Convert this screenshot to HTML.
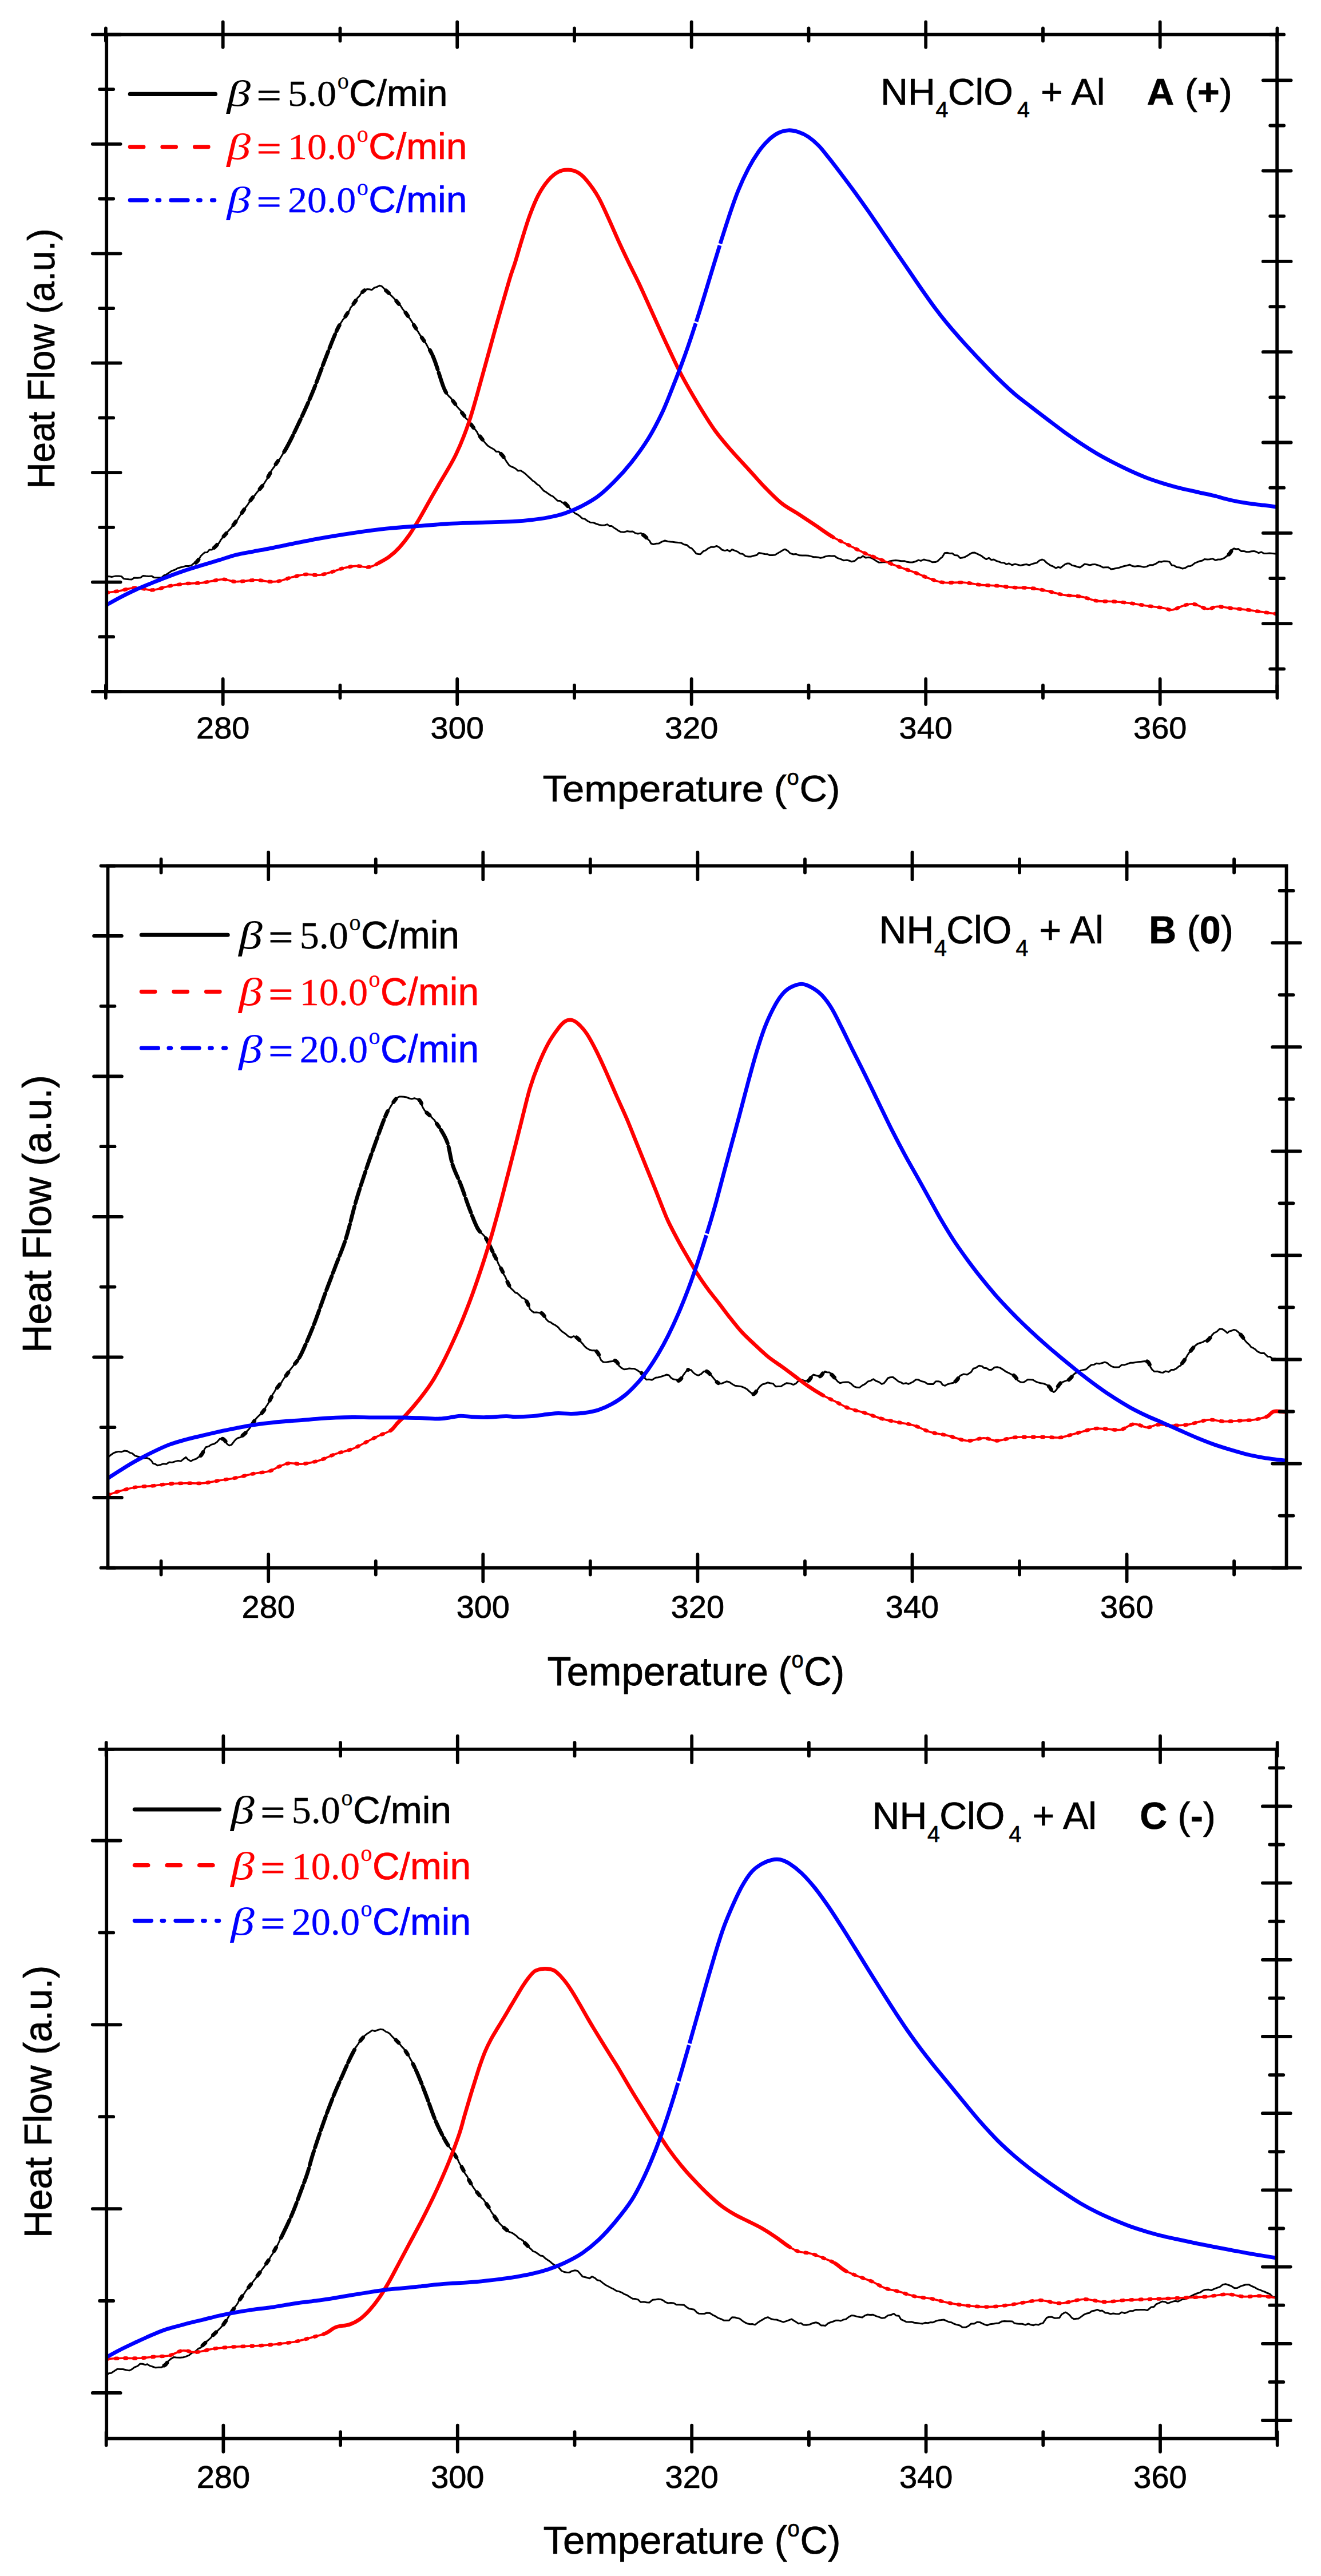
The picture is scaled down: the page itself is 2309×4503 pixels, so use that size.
<!DOCTYPE html>
<html><head><meta charset="utf-8"><title>DSC curves NH4ClO4 + Al</title>
<style>html,body{margin:0;padding:0;background:#fff}svg{display:block}</style></head>
<body>
<svg width="2309" height="4503" viewBox="0 0 2309 4503">
<rect width="2309" height="4503" fill="#fff"/>
<clipPath id="cA"><rect x="186.2" y="60.4" width="2046" height="1148.6"/></clipPath>
<g clip-path="url(#cA)">
<path d="M186.2,1008.1L190,1007.4L195.9,1008.4L202.4,1006.9L208,1007L212.6,1007.7L216,1011.6L220.4,1012.2L225.8,1012.8L230.2,1012.9L234.5,1009.9L240.4,1010.2L245.6,1009.7L250.2,1006.4L255,1007L259.9,1007.5L265.3,1007.1L269.4,1009.6L274,1009.8L278,1009.8L282.8,1009.4L286.9,1005.7L290.4,1004.6L295.7,1001L300,998L305.4,996.3L310.6,993.3L315.9,991.8L320.2,990.8L324.9,989.4L330.2,989.4L334.6,988.3L338.8,984.6L342.4,983.6L345.6,980.1L348.2,976.9L350.8,972.1L354,969L357.6,965.8L362.2,965.6L365.8,961.1L370.5,960.9L374.4,957.4L377.8,954.6L380.9,951.6L383.6,948L385.9,943.8L389,939.9L392.7,935.6L395.9,931.9L399.4,927.6L403.3,923.6L406.5,919.5L409.1,915.3L412.7,911.8L415.4,907.9L418.1,903.3L421,899L423.1,895.3L426.6,890.8L429,887.3L432.7,882.8L435.7,877.9L438.1,873.6L441.4,870L445.2,866L448.4,861.6L452,857.5L455.8,853.4L458.5,849.1L461.8,845L464.6,840.5L466.9,837L468.9,832.3L471.1,828.6L473.8,823.7L477,819L479.7,815.5L481.7,811.5L484.7,807L488.3,803.6L490.9,799.2L493.9,794.2L496.7,789.7L499.7,784.7L501.6,780.2L504,776L507,772.1L509.4,766.8L511.2,762.8L513.6,758L516.2,753L518.4,748.4L520.8,742.6L523,738L525.1,733.7L527.7,728.8L529.6,724.9L531.7,719.7L533.2,714.7L535.9,710L538.2,706.1L539.6,700.9L541.7,696.1L544.3,690.4L546.4,685.6L547.8,681.5L550.2,676.9L551.9,672L554,667.6L555.9,661.6L557.8,657.5L559.1,652.9L561.4,647.1L562.4,642.1L564.8,637.6L566.4,632.9L568.1,628.4L569.7,624.4L572,619.3L574.1,614.5L575.2,608.9L577.9,604.5L579.1,600.2L581.3,595.5L582.7,591L585,586.1L587,582.4L588.4,577.9L590,574.9L592.9,569.1L595.6,564.8L597.6,561.7L599.4,558.8L602.2,555.8L604.7,551.6L607.7,547.3L610.8,542.7L612.9,537.5L616.5,533.7L618.8,529.5L622,525.3L625,520.6L628.5,517.2L631.2,512.7L634.2,510L637.2,507.5L641.8,505.4L645.6,505.8L650,506.7L654.3,503L658.6,501.6L663.3,499.3L666.9,500.1L670.4,503.5L674.6,507.8L677.5,510.4L680.9,514.2L684.3,517.1L688.4,521.3L692,525.3L695.2,529.1L697.9,532.1L700.6,535.1L703.3,539.6L706.7,543.9L709.6,547L712.5,551.6L714.8,555L717.6,558.6L720,562.5L722.9,567.2L725.1,570.6L727.2,575.3L730.4,579.3L733,583.6L735.6,587.7L738,591.2L740.6,595.1L743.3,598.4L746,602.9L748.1,607.4L751,611.5L753.9,616.4L756.2,621.5L757.7,625.9L760.3,630.8L761.4,635.5L763.4,641.2L765,646.3L766.7,651.9L769,656.9L770.7,662.3L771.9,667L773.4,671.9L775.3,676.1L776.6,679.8L779.5,686.4L782.6,690.3L784.9,693L787.8,695.5L791.2,700.2L793.6,702.7L795.7,706.7L798.3,710L801.3,713.4L805,717.4L808.1,721.5L811.1,725.8L813.6,730.4L817.1,733.5L820.3,738L823.6,742.1L827,745.9L830.1,750.4L833.6,754.8L836.4,760.5L840.4,764.3L843,767.9L846.3,772.1L849.5,775.9L852.4,778.9L857.7,782.4L862.9,785.2L867.5,789.6L871.3,789.2L875.7,793.4L878.9,797.3L882.1,801.5L885,806.3L887.7,810.2L890.3,813.8L894.4,816L897.1,816.9L902,819.7L905.2,823L910.1,822.6L914.6,825.4L918.6,828.5L923.3,833L927.2,836.4L931,840.3L934.7,842.6L939.1,846.8L942.8,849L946.6,853.6L950.7,858.2L954.5,860.2L959.1,863.6L962.8,866.2L966,867.4L970,871L974.4,875.2L979,875.6L983.2,878.7L987.4,879.8L990.3,882.4L994,886.1L997.4,890.3L1000.8,893.2L1005,897.3L1008.5,898.8L1012.8,901.7L1017.7,906.2L1022,907L1027.1,910.7L1031.9,913.3L1037,913.6L1041.9,915.5L1047.2,917.4L1051.9,918.3L1057.2,917.9L1061.5,916.6L1065.5,919.6L1069,919.4L1074.3,923.4L1076.8,924.8L1080.7,927.6L1085.3,929.8L1090.5,930.2L1095.8,928.6L1101,929.3L1106,929.1L1110.5,931.9L1115,933L1120.4,931.9L1124.4,935.2L1127.9,938.4L1131.4,941.7L1135.5,945.5L1137.9,950L1142,951.5L1146.9,950.2L1151.5,950.1L1156.6,947.1L1162.3,945L1167.3,946.5L1171.9,947.1L1175.8,947.3L1180.6,947.9L1185.6,948.6L1190.6,948.9L1195.4,951.7L1200.8,952.8L1205.5,957.1L1209,958.5L1213.1,963L1217,967.8L1220.6,968.4L1224.3,968.7L1229.3,963.6L1233.3,962.1L1238,958.5L1243.5,955.9L1248.3,956.2L1252.6,954.4L1257.5,957L1262.4,961.3L1267.2,962.6L1271.3,961.4L1275.8,963.9L1279.4,960.5L1284.7,962.6L1289.3,964.4L1293.7,967.7L1298.3,968.3L1303,972.2L1308,973L1312.5,973L1317.2,971.4L1322.3,970.6L1326.4,966.6L1331.3,967.2L1336.6,968.5L1341.3,968.7L1345.5,970.5L1350.2,970.4L1354.7,970L1360,966.7L1363.5,964.8L1368.5,961.7L1372,960.2L1377.1,962.9L1381,967.1L1386.7,969L1391.2,968.4L1397.2,970.8L1402.3,970.9L1408.4,971.1L1413,971.3L1417.4,972.4L1422,973.8L1425.6,973.8L1430.4,974.2L1434.2,975.4L1438.4,974.5L1442.9,972.7L1448.6,971.6L1453.7,971.9L1458.5,971.8L1463.5,975.3L1469,977.2L1474.6,979.7L1480.3,979L1484.7,980.2L1488.7,981.8L1494.1,980.5L1496.7,978.1L1500.4,974.8L1504.1,975.1L1508.3,972L1513.1,974.9L1517.9,974.2L1522.3,975.1L1526.1,976.9L1531.6,980.6L1536.2,983.3L1541.2,983L1545.4,982.4L1550.4,983.1L1555.3,981L1560.7,979.9L1565.7,979.5L1570.3,980L1575.4,980.7L1581,980.7L1585.4,982.3L1590.5,982.9L1594.9,983L1599.5,981.8L1605.4,979.1L1609.7,980.4L1614.8,978L1619.4,979.4L1624.9,980.3L1629.4,982.7L1635,982.6L1639,980.9L1643.4,976.5L1647,973.6L1651.2,966.8L1655.6,966.3L1660,967.4L1664.5,967.2L1668.6,970.4L1673.9,971L1678.3,975.5L1681.8,975L1686.6,973.7L1690.7,971.4L1694.5,968.9L1699.3,966.3L1703.8,966L1709.2,968.6L1714.9,971.3L1719.7,975L1724.1,977.6L1728.4,975.2L1732.5,978.7L1737.2,978L1741.3,980.4L1745.4,981.7L1749.8,983.4L1754.7,983.8L1759.3,986.4L1763.4,984.8L1768.8,987.8L1774.4,986L1778.7,987.1L1783.8,988.5L1789.1,987.2L1794.1,986.5L1799,987.9L1803.3,986.1L1807,985L1812.2,983.9L1816.7,979.9L1821.7,978L1825.5,979.7L1829,983.4L1832.8,986L1836.3,988.5L1840.1,989.7L1845.4,993.1L1849.4,991.3L1853.8,992.5L1857.8,989.4L1861.7,986.4L1865.4,985L1869,985.1L1873.6,988.1L1878.3,989.3L1883,990.8L1887.6,992L1891,989.8L1895.9,986L1900.4,986.7L1905.1,987.9L1909.5,986.8L1913.6,986.4L1919.1,988L1923.7,989.6L1928,992L1932.9,991.8L1937.4,991.7L1942.1,994.9L1947,994.3L1951.4,993.2L1956.1,992.4L1960.2,991L1965.2,989.5L1970.3,988.5L1974.6,987.1L1979.1,989.4L1983.7,990.2L1988.9,989.6L1993.8,990L1999.5,991.4L2004.4,990.4L2010,987.7L2015.2,987.7L2020.3,985.5L2026,981.7L2030,982.2L2034.5,980.9L2040.1,981.2L2044.2,982.1L2048,988L2052,988.5L2057.2,991.6L2062,992L2067,994L2072.3,992.5L2076.5,989.7L2080.8,989.5L2084.4,987.7L2088.3,984.3L2092.7,982.6L2096.7,981L2101.6,980.1L2105.3,977.6L2110.2,978L2114.3,977.7L2119.4,976.6L2124.8,979.3L2128.9,978L2133.5,978L2139.5,975.7L2143.8,972.5L2148,969.2L2151.3,964.7L2153.6,960.8L2156.9,958.7L2160.2,959.9L2164.7,959.6L2169.7,963.6L2174.3,963.4L2178.8,964.8L2182.8,964.8L2187.6,963.8L2191.8,963.4L2195.9,964.5L2199.9,966.7L2204.8,965L2209.3,967.5L2214.2,967.6L2219.1,966.9L2224.2,967.4L2229.3,968L2232.2,968.1" fill="none" stroke="#000" stroke-width="3" stroke-linejoin="round"/>
<path d="M499.7,784.7C507.4,771.2 515.2,754.5 523,738C530.8,721.5 538.6,704.5 546.4,685.6C554.2,666.7 562.4,642.9 569.7,624.4C577,605.9 584.2,587 590,574.9" fill="none" stroke="#000" stroke-width="6.8" stroke-dasharray="26 6" stroke-linecap="round"/>
<path d="M756.2,621.5C763.5,637.5 770.8,666.7 776.6,679.8" fill="none" stroke="#000" stroke-width="6.8" stroke-dasharray="26 6" stroke-linecap="round"/>
<path d="M342.4,983.6C347.2,980.2 348.7,973.4 354,969" fill="none" stroke="#000" stroke-width="6.8" stroke-dasharray="7 19" stroke-linecap="round"/>
<path d="M374.4,957.4C380.2,952.5 383.6,946.2 389,939.9C394.4,933.6 401.2,926.3 406.5,919.5C411.8,912.7 415.2,907.2 421,899C426.8,890.8 434.6,879 441.4,870C448.2,861 455.9,853.5 461.8,845C467.7,836.5 470.7,829 477,819C483.3,809 492,798.2 499.7,784.7" fill="none" stroke="#000" stroke-width="6.8" stroke-dasharray="7 19" stroke-linecap="round"/>
<path d="M590,574.9C595.8,562.8 599.4,559.9 604.7,551.6C610,543.3 616.6,532.6 622,525.3C627.4,517.9 632.5,510.6 637.2,507.5" fill="none" stroke="#000" stroke-width="6.8" stroke-dasharray="7 19" stroke-linecap="round"/>
<path d="M674.6,507.8C679.4,512.1 685.7,518 692,525.3C698.3,532.6 705.7,541.9 712.5,551.6C719.3,561.3 725.7,572 733,583.6C740.3,595.2 748.9,605.5 756.2,621.5" fill="none" stroke="#000" stroke-width="6.8" stroke-dasharray="7 19" stroke-linecap="round"/>
<path d="M776.6,679.8C782.4,692.9 783.9,690.5 791.2,700.2C798.5,709.9 810.1,724.9 820.3,738C830.5,751.1 843.2,769.7 852.4,778.9" fill="none" stroke="#000" stroke-width="6.8" stroke-dasharray="7 19" stroke-linecap="round"/>
<path d="M875.7,793.4C882,799.2 885.9,809.4 890.3,813.8" fill="none" stroke="#000" stroke-width="6.8" stroke-dasharray="7 19" stroke-linecap="round"/>
<path d="M987.4,879.8C993.2,884.2 996.7,891.7 1005,897.3" fill="none" stroke="#000" stroke-width="6.8" stroke-dasharray="7 19" stroke-linecap="round"/>
<path d="M1124.4,935.2C1131.2,938.9 1135.7,949.9 1142,951.5" fill="none" stroke="#000" stroke-width="6.8" stroke-dasharray="7 19" stroke-linecap="round"/>
<path d="M2148,969.2C2151.9,966 2152.5,959.7 2156.9,958.7" fill="none" stroke="#000" stroke-width="6.8" stroke-dasharray="7 19" stroke-linecap="round"/>
<path d="M186.2,1036.2C189.9,1035.7 199.8,1034.5 208.3,1033C216.8,1031.5 227.7,1027.6 237.4,1027.3C247.1,1027 256.9,1031.9 266.6,1031.4C276.3,1030.9 286,1026.2 295.7,1024.4C305.4,1022.6 315.2,1021.3 324.9,1020.3C334.6,1019.3 343.3,1019.9 354,1018.6C364.7,1017.4 379.3,1013.1 389,1012.8C398.7,1012.5 402.6,1016.6 412.3,1016.8C422,1017 437.6,1013.9 447.3,1013.9C457,1013.9 463.8,1016.5 470.6,1016.8C477.4,1017.1 481.2,1017.1 488,1015.7C494.8,1014.4 503.6,1010.7 511.4,1008.7C519.2,1006.8 526.9,1004.6 534.7,1004C542.5,1003.4 550.2,1006 558,1005.2C565.8,1004.4 574.5,1001.4 581.3,999.4C588.1,997.4 592,995.2 598.8,993.5C605.6,991.8 614.2,989.8 622,989.4C629.8,989 638.7,992.2 645.5,991.2C652.3,990.2 657.1,986.5 662.9,983.5C668.7,980.5 674.6,977.6 680.4,973.2C686.2,968.8 692.1,963.6 697.9,957.2C703.7,950.9 709.6,943.4 715.4,935.1C721.2,926.7 727.1,916.9 732.9,907.1C738.7,897.3 744.6,886.4 750.4,876.1C756.2,865.8 760.1,859.1 767.9,845.5C775.7,831.9 788.3,812.6 797,794.4C805.7,776.2 812.5,759.2 820.3,736C828.1,712.8 835.8,682.7 843.6,655.1C851.4,627.5 859.2,598 867,570.4C874.8,542.8 884.8,507.8 890.3,489.4C895.8,471 896.4,471.4 900,460C903.6,448.6 907.4,434.7 911.7,420.8C916,406.9 921.1,389.6 926,376.4C930.9,363.2 935.4,351.6 940.8,341.4C946.2,331.2 952.5,322 958.3,315.2C964.1,308.4 970,303.6 975.8,300.6C981.6,297.5 987.5,296.7 993.3,296.9C999.1,297.1 1005.4,298.7 1010.7,301.8C1016,304.8 1019.5,308.1 1025.3,315.2C1031.1,322.3 1039.4,333.3 1045.7,344.3C1052,355.3 1057.4,368.3 1063.2,380.9C1069,393.6 1074.9,407.5 1080.7,420.3C1086.5,433.1 1092.4,445.4 1098.2,457.5C1104,469.6 1109.9,480.8 1115.7,493C1121.5,505.2 1127.2,518.1 1133,530.9C1138.8,543.7 1144.8,557 1150.6,569.8C1156.4,582.6 1161.2,593.1 1168,607.5C1174.8,621.8 1182.6,639.4 1191.4,656C1200.2,672.6 1210.9,691 1220.6,707.1C1230.3,723.1 1240,739 1249.7,752.5C1259.4,766 1269.2,776.9 1278.9,788.2C1288.6,799.4 1298.3,809.3 1308,819.9C1317.7,830.5 1327.3,841.9 1337,851.9C1346.7,861.9 1356.5,872.1 1366.3,879.9C1376,887.6 1385.8,892.2 1395.5,898.5C1405.2,904.9 1414.9,911.3 1424.6,917.8C1434.3,924.3 1444,931.8 1453.7,937.6C1463.4,943.4 1473.2,947.7 1482.9,952.6C1492.6,957.5 1502.3,962.8 1512,967.2C1521.7,971.5 1531.5,975 1541.2,978.9C1550.9,982.8 1560.6,986.8 1570.3,990.5C1580,994.2 1590.2,997.4 1599.5,1001C1608.8,1004.6 1618,1009.1 1626.4,1012C1634.8,1014.9 1640,1017.2 1649.7,1018.3C1659.4,1019.3 1674,1017.6 1684.7,1018.3C1695.4,1019 1704.2,1021.4 1713.9,1022.4C1723.6,1023.4 1733.3,1023.2 1743,1024C1752.7,1024.8 1762.3,1026.3 1772,1027C1781.7,1027.7 1791.6,1027 1801.3,1028C1811,1029 1820.7,1031 1830.4,1033C1840.1,1035 1849.9,1038.4 1859.6,1040C1869.3,1041.6 1879,1041.1 1888.7,1042.8C1898.4,1044.5 1908.2,1049 1917.9,1050.4C1927.6,1051.9 1937.3,1050.8 1947,1051.5C1956.7,1052.2 1966.3,1053.2 1976,1054.5C1985.7,1055.8 1995.5,1057.6 2005.3,1059C2015,1060.4 2027.2,1061.8 2034.5,1063C2041.8,1064.2 2043.2,1066.8 2049,1066C2054.8,1065.2 2063.1,1060.2 2069.4,1058.5C2075.7,1056.8 2080.2,1055 2087,1056C2093.8,1057 2103.4,1063.7 2110.2,1064.4C2117,1065.1 2120.9,1060.5 2127.7,1060.3C2134.5,1060.1 2142.2,1062 2151,1063C2159.8,1064 2170.5,1064.8 2180.2,1066C2189.9,1067.2 2200.6,1069 2209.3,1070.2C2218,1071.4 2228.4,1072.8 2232.2,1073.3" fill="none" stroke="#f00" stroke-width="3.6" stroke-linejoin="round"/>
<path d="M186.2,1036.2C189.9,1035.7 199.8,1034.5 208.3,1033C216.8,1031.5 227.7,1027.6 237.4,1027.3C247.1,1027 256.9,1031.9 266.6,1031.4C276.3,1030.9 286,1026.2 295.7,1024.4C305.4,1022.6 315.2,1021.3 324.9,1020.3C334.6,1019.3 343.3,1019.9 354,1018.6C364.7,1017.4 379.3,1013.1 389,1012.8C398.7,1012.5 402.6,1016.6 412.3,1016.8C422,1017 437.6,1013.9 447.3,1013.9C457,1013.9 463.8,1016.5 470.6,1016.8C477.4,1017.1 481.2,1017.1 488,1015.7C494.8,1014.4 503.6,1010.7 511.4,1008.7C519.2,1006.8 526.9,1004.6 534.7,1004C542.5,1003.4 550.2,1006 558,1005.2C565.8,1004.4 574.5,1001.4 581.3,999.4C588.1,997.4 592,995.2 598.8,993.5C605.6,991.8 614.2,989.8 622,989.4C629.8,989 638.7,992.2 645.5,991.2C652.3,990.2 657.1,986.5 662.9,983.5" fill="none" stroke="#f00" stroke-width="6.4" stroke-dasharray="3 13" stroke-linecap="round"/>
<path d="M662.9,983.5C668.7,980.5 674.6,977.6 680.4,973.2C686.2,968.8 692.1,963.6 697.9,957.2C703.7,950.9 709.6,943.4 715.4,935.1C721.2,926.7 727.1,916.9 732.9,907.1C738.7,897.3 744.6,886.4 750.4,876.1C756.2,865.8 760.1,859.1 767.9,845.5C775.7,831.9 788.3,812.6 797,794.4C805.7,776.2 812.5,759.2 820.3,736C828.1,712.8 835.8,682.7 843.6,655.1C851.4,627.5 859.2,598 867,570.4C874.8,542.8 884.8,507.8 890.3,489.4C895.8,471 896.4,471.4 900,460C903.6,448.6 907.4,434.7 911.7,420.8C916,406.9 921.1,389.6 926,376.4C930.9,363.2 935.4,351.6 940.8,341.4C946.2,331.2 952.5,322 958.3,315.2C964.1,308.4 970,303.6 975.8,300.6C981.6,297.5 987.5,296.7 993.3,296.9C999.1,297.1 1005.4,298.7 1010.7,301.8C1016,304.8 1019.5,308.1 1025.3,315.2C1031.1,322.3 1039.4,333.3 1045.7,344.3C1052,355.3 1057.4,368.3 1063.2,380.9C1069,393.6 1074.9,407.5 1080.7,420.3C1086.5,433.1 1092.4,445.4 1098.2,457.5C1104,469.6 1109.9,480.8 1115.7,493C1121.5,505.2 1127.2,518.1 1133,530.9C1138.8,543.7 1144.8,557 1150.6,569.8C1156.4,582.6 1161.2,593.1 1168,607.5C1174.8,621.8 1182.6,639.4 1191.4,656C1200.2,672.6 1210.9,691 1220.6,707.1C1230.3,723.1 1240,739 1249.7,752.5C1259.4,766 1269.2,776.9 1278.9,788.2C1288.6,799.4 1298.3,809.3 1308,819.9C1317.7,830.5 1327.3,841.9 1337,851.9C1346.7,861.9 1356.5,872.1 1366.3,879.9C1376,887.6 1385.8,892.2 1395.5,898.5C1405.2,904.9 1414.9,911.3 1424.6,917.8C1434.3,924.3 1444,931.8 1453.7,937.6" fill="none" stroke="#f00" stroke-width="6.6" stroke-linecap="round"/>
<path d="M1453.7,937.6C1463.4,943.4 1473.2,947.7 1482.9,952.6C1492.6,957.5 1502.3,962.8 1512,967.2C1521.7,971.5 1531.5,975 1541.2,978.9C1550.9,982.8 1560.6,986.8 1570.3,990.5C1580,994.2 1590.2,997.4 1599.5,1001C1608.8,1004.6 1618,1009.1 1626.4,1012C1634.8,1014.9 1640,1017.2 1649.7,1018.3C1659.4,1019.3 1674,1017.6 1684.7,1018.3C1695.4,1019 1704.2,1021.4 1713.9,1022.4C1723.6,1023.4 1733.3,1023.2 1743,1024C1752.7,1024.8 1762.3,1026.3 1772,1027C1781.7,1027.7 1791.6,1027 1801.3,1028C1811,1029 1820.7,1031 1830.4,1033C1840.1,1035 1849.9,1038.4 1859.6,1040C1869.3,1041.6 1879,1041.1 1888.7,1042.8C1898.4,1044.5 1908.2,1049 1917.9,1050.4C1927.6,1051.9 1937.3,1050.8 1947,1051.5C1956.7,1052.2 1966.3,1053.2 1976,1054.5C1985.7,1055.8 1995.5,1057.6 2005.3,1059C2015,1060.4 2027.2,1061.8 2034.5,1063C2041.8,1064.2 2043.2,1066.8 2049,1066C2054.8,1065.2 2063.1,1060.2 2069.4,1058.5C2075.7,1056.8 2080.2,1055 2087,1056C2093.8,1057 2103.4,1063.7 2110.2,1064.4C2117,1065.1 2120.9,1060.5 2127.7,1060.3C2134.5,1060.1 2142.2,1062 2151,1063C2159.8,1064 2170.5,1064.8 2180.2,1066C2189.9,1067.2 2200.6,1069 2209.3,1070.2C2218,1071.4 2228.4,1072.8 2232.2,1073.3" fill="none" stroke="#f00" stroke-width="6.4" stroke-dasharray="3 13" stroke-linecap="round"/>
<path d="M186.2,1057.5C189.9,1055.4 199.8,1049.7 208.3,1045.2C216.8,1040.8 227.7,1035.3 237.4,1030.9C247.1,1026.4 256.9,1022.5 266.6,1018.6C276.3,1014.6 286,1010.9 295.7,1007.2C305.4,1003.6 315.2,1000 324.9,996.8C334.6,993.5 344.3,990.7 354,987.8C363.7,984.8 373.3,982 383,979.1C392.7,976.1 402.6,972.5 412.3,970C422,967.6 431.7,966.1 441.4,964.3C451.1,962.4 460.9,960.8 470.6,958.8C480.3,956.9 485.1,955.7 499.7,952.8C514.3,949.9 538.6,944.9 558,941.4C577.4,937.9 596.9,934.8 616.3,931.9C635.7,929 655.2,926.3 674.6,924.2C694,922.1 713.5,920.9 732.9,919.4C752.3,917.9 771.8,916.3 791.2,915.2C810.6,914.1 831.4,913.7 849.5,913.1C867.6,912.4 886.8,912.1 900,911.4C913.2,910.7 919.3,910 929,908.8C938.7,907.7 948.6,906.4 958.3,904.5C968,902.6 977.7,900.5 987.4,897.2C997.1,893.9 1006.9,889.8 1016.6,884.8C1026.3,879.8 1036,874.6 1045.7,867.3C1055.4,860 1065.2,850.6 1074.9,840.7C1084.6,830.8 1094.3,820.1 1104,807.8C1113.7,795.5 1124.2,781.1 1133,767C1141.8,752.9 1149.7,737.5 1156.5,723.3C1163.3,709.1 1168.2,696 1174,681.5C1179.8,667.1 1186.6,649.6 1191.4,636.8C1196.2,623.9 1198.6,617.3 1203,604.5C1207.4,591.7 1212.8,575.3 1217.7,560.2C1222.6,545 1227.4,529.5 1232.2,513.7C1237,497.9 1241.9,481.4 1246.8,465.5C1251.7,449.5 1256.5,433.5 1261.4,418.1C1266.3,402.6 1271.2,387.1 1276,372.9C1280.8,358.6 1285.2,345.7 1290.5,332.7C1295.8,319.7 1302.2,306 1308,294.8C1313.8,283.6 1319.7,274 1325.5,265.7C1331.3,257.4 1337.2,250.7 1343,245.2C1348.8,239.6 1354.7,235.3 1360.5,232.4C1366.3,229.5 1372.2,228.1 1378,227.8C1383.8,227.5 1389.7,228.9 1395.5,230.8C1401.3,232.7 1407.2,235.3 1413,239.2C1418.8,243.1 1424.6,248 1430.4,254C1436.2,260 1441.1,266.4 1447.9,274.9C1454.7,283.4 1463.4,294.9 1471.2,305.2C1479,315.5 1486.7,325.8 1494.5,336.5C1502.3,347.2 1510.1,358.2 1517.9,369.4C1525.7,380.5 1533.4,392.2 1541.2,403.6C1549,415 1556.7,426.4 1564.5,437.8C1572.3,449.2 1580,460.4 1587.8,471.7C1595.5,483 1603.2,494.6 1611,505.7C1618.8,516.8 1627,528.5 1634.4,538.5C1641.8,548.5 1647.2,555.4 1655.6,565.5C1664,575.6 1675,588.2 1684.7,599C1694.4,609.8 1704.2,620.1 1713.9,630.4C1723.6,640.6 1733.3,650.8 1743,660.3C1752.7,669.8 1762.3,679 1772,687.4C1781.7,695.8 1791.6,703 1801.3,710.5C1811,718.1 1820.7,725.4 1830.4,732.8C1840.1,740.1 1849.9,747.6 1859.6,754.7C1869.3,761.7 1879,768.5 1888.7,774.9C1898.4,781.3 1908.2,787.6 1917.9,793.2C1927.6,798.9 1937.3,804 1947,809C1956.7,814 1966.3,818.7 1976,823.1C1985.7,827.5 1995.5,831.9 2005.3,835.6C2015,839.3 2024.8,842.4 2034.5,845.4C2044.2,848.4 2053.9,851 2063.6,853.5C2073.3,855.9 2083,857.9 2092.7,860.1C2102.4,862.3 2112.2,864.2 2121.9,866.5C2131.6,868.9 2141.3,872 2151,874.2C2160.7,876.4 2170.5,878.2 2180.2,879.7C2189.9,881.2 2200.6,882.1 2209.3,883.2C2218,884.2 2228.4,885.7 2232.2,886.3" fill="none" stroke="#00f" stroke-width="6.8" stroke-linejoin="round" stroke-linecap="butt"/>
<line x1="1210.8" y1="561.9" x2="1222.2" y2="565.7" stroke="#fff" stroke-width="3"/>
<line x1="1252.8" y1="425.7" x2="1264.2" y2="429.3" stroke="#fff" stroke-width="3"/>
</g>
<rect x="186.2" y="60.4" width="2046" height="1148.6" fill="none" stroke="#000" stroke-width="5.8"/>
<line x1="184.9" y1="49.3" x2="184.9" y2="71.5" stroke="#000" stroke-width="5.8" stroke-linecap="round"/>
<line x1="184.9" y1="1197.9" x2="184.9" y2="1220.1" stroke="#000" stroke-width="5.8" stroke-linecap="round"/>
<line x1="389.7" y1="38.3" x2="389.7" y2="82.5" stroke="#000" stroke-width="5.8" stroke-linecap="round"/>
<line x1="389.7" y1="1186.9" x2="389.7" y2="1231.1" stroke="#000" stroke-width="5.8" stroke-linecap="round"/>
<text x="0" y="0" font-family="Liberation Sans, sans-serif" font-size="53" text-anchor="middle" fill="#000" stroke="#000" stroke-width="0.7" stroke-linejoin="round" transform="translate(389.7,1291) scale(1.055,1.0)">280</text>
<line x1="594.5" y1="49.3" x2="594.5" y2="71.5" stroke="#000" stroke-width="5.8" stroke-linecap="round"/>
<line x1="594.5" y1="1197.9" x2="594.5" y2="1220.1" stroke="#000" stroke-width="5.8" stroke-linecap="round"/>
<line x1="799.2" y1="38.3" x2="799.2" y2="82.5" stroke="#000" stroke-width="5.8" stroke-linecap="round"/>
<line x1="799.2" y1="1186.9" x2="799.2" y2="1231.1" stroke="#000" stroke-width="5.8" stroke-linecap="round"/>
<text x="0" y="0" font-family="Liberation Sans, sans-serif" font-size="53" text-anchor="middle" fill="#000" stroke="#000" stroke-width="0.7" stroke-linejoin="round" transform="translate(799.2,1291) scale(1.055,1.0)">300</text>
<line x1="1004" y1="49.3" x2="1004" y2="71.5" stroke="#000" stroke-width="5.8" stroke-linecap="round"/>
<line x1="1004" y1="1197.9" x2="1004" y2="1220.1" stroke="#000" stroke-width="5.8" stroke-linecap="round"/>
<line x1="1208.7" y1="38.3" x2="1208.7" y2="82.5" stroke="#000" stroke-width="5.8" stroke-linecap="round"/>
<line x1="1208.7" y1="1186.9" x2="1208.7" y2="1231.1" stroke="#000" stroke-width="5.8" stroke-linecap="round"/>
<text x="0" y="0" font-family="Liberation Sans, sans-serif" font-size="53" text-anchor="middle" fill="#000" stroke="#000" stroke-width="0.7" stroke-linejoin="round" transform="translate(1208.7,1291) scale(1.055,1.0)">320</text>
<line x1="1413.5" y1="49.3" x2="1413.5" y2="71.5" stroke="#000" stroke-width="5.8" stroke-linecap="round"/>
<line x1="1413.5" y1="1197.9" x2="1413.5" y2="1220.1" stroke="#000" stroke-width="5.8" stroke-linecap="round"/>
<line x1="1618.2" y1="38.3" x2="1618.2" y2="82.5" stroke="#000" stroke-width="5.8" stroke-linecap="round"/>
<line x1="1618.2" y1="1186.9" x2="1618.2" y2="1231.1" stroke="#000" stroke-width="5.8" stroke-linecap="round"/>
<text x="0" y="0" font-family="Liberation Sans, sans-serif" font-size="53" text-anchor="middle" fill="#000" stroke="#000" stroke-width="0.7" stroke-linejoin="round" transform="translate(1618.2,1291) scale(1.055,1.0)">340</text>
<line x1="1823" y1="49.3" x2="1823" y2="71.5" stroke="#000" stroke-width="5.8" stroke-linecap="round"/>
<line x1="1823" y1="1197.9" x2="1823" y2="1220.1" stroke="#000" stroke-width="5.8" stroke-linecap="round"/>
<line x1="2027.7" y1="38.3" x2="2027.7" y2="82.5" stroke="#000" stroke-width="5.8" stroke-linecap="round"/>
<line x1="2027.7" y1="1186.9" x2="2027.7" y2="1231.1" stroke="#000" stroke-width="5.8" stroke-linecap="round"/>
<text x="0" y="0" font-family="Liberation Sans, sans-serif" font-size="53" text-anchor="middle" fill="#000" stroke="#000" stroke-width="0.7" stroke-linejoin="round" transform="translate(2027.7,1291) scale(1.055,1.0)">360</text>
<line x1="2232.5" y1="49.3" x2="2232.5" y2="71.5" stroke="#000" stroke-width="5.8" stroke-linecap="round"/>
<line x1="2232.5" y1="1197.9" x2="2232.5" y2="1220.1" stroke="#000" stroke-width="5.8" stroke-linecap="round"/>
<line x1="161.8" y1="60.4" x2="210.6" y2="60.4" stroke="#000" stroke-width="5.8" stroke-linecap="round"/>
<line x1="161.8" y1="251.8" x2="210.6" y2="251.8" stroke="#000" stroke-width="5.8" stroke-linecap="round"/>
<line x1="161.8" y1="443.3" x2="210.6" y2="443.3" stroke="#000" stroke-width="5.8" stroke-linecap="round"/>
<line x1="161.8" y1="634.7" x2="210.6" y2="634.7" stroke="#000" stroke-width="5.8" stroke-linecap="round"/>
<line x1="161.8" y1="826.1" x2="210.6" y2="826.1" stroke="#000" stroke-width="5.8" stroke-linecap="round"/>
<line x1="161.8" y1="1017.6" x2="210.6" y2="1017.6" stroke="#000" stroke-width="5.8" stroke-linecap="round"/>
<line x1="161.8" y1="1209" x2="210.6" y2="1209" stroke="#000" stroke-width="5.8" stroke-linecap="round"/>
<line x1="174.2" y1="156.1" x2="198.2" y2="156.1" stroke="#000" stroke-width="5.8" stroke-linecap="round"/>
<line x1="174.2" y1="347.5" x2="198.2" y2="347.5" stroke="#000" stroke-width="5.8" stroke-linecap="round"/>
<line x1="174.2" y1="539" x2="198.2" y2="539" stroke="#000" stroke-width="5.8" stroke-linecap="round"/>
<line x1="174.2" y1="730.4" x2="198.2" y2="730.4" stroke="#000" stroke-width="5.8" stroke-linecap="round"/>
<line x1="174.2" y1="921.8" x2="198.2" y2="921.8" stroke="#000" stroke-width="5.8" stroke-linecap="round"/>
<line x1="174.2" y1="1113.2" x2="198.2" y2="1113.2" stroke="#000" stroke-width="5.8" stroke-linecap="round"/>
<line x1="2207.8" y1="140.3" x2="2256.6" y2="140.3" stroke="#000" stroke-width="5.8" stroke-linecap="round"/>
<line x1="2207.8" y1="298.6" x2="2256.6" y2="298.6" stroke="#000" stroke-width="5.8" stroke-linecap="round"/>
<line x1="2207.8" y1="456.9" x2="2256.6" y2="456.9" stroke="#000" stroke-width="5.8" stroke-linecap="round"/>
<line x1="2207.8" y1="615.2" x2="2256.6" y2="615.2" stroke="#000" stroke-width="5.8" stroke-linecap="round"/>
<line x1="2207.8" y1="773.5" x2="2256.6" y2="773.5" stroke="#000" stroke-width="5.8" stroke-linecap="round"/>
<line x1="2207.8" y1="931.8" x2="2256.6" y2="931.8" stroke="#000" stroke-width="5.8" stroke-linecap="round"/>
<line x1="2207.8" y1="1090.1" x2="2256.6" y2="1090.1" stroke="#000" stroke-width="5.8" stroke-linecap="round"/>
<line x1="2220.2" y1="60.4" x2="2244.2" y2="60.4" stroke="#000" stroke-width="5.8" stroke-linecap="round"/>
<line x1="2220.2" y1="219.5" x2="2244.2" y2="219.5" stroke="#000" stroke-width="5.8" stroke-linecap="round"/>
<line x1="2220.2" y1="377.8" x2="2244.2" y2="377.8" stroke="#000" stroke-width="5.8" stroke-linecap="round"/>
<line x1="2220.2" y1="536.1" x2="2244.2" y2="536.1" stroke="#000" stroke-width="5.8" stroke-linecap="round"/>
<line x1="2220.2" y1="694.4" x2="2244.2" y2="694.4" stroke="#000" stroke-width="5.8" stroke-linecap="round"/>
<line x1="2220.2" y1="852.7" x2="2244.2" y2="852.7" stroke="#000" stroke-width="5.8" stroke-linecap="round"/>
<line x1="2220.2" y1="1011" x2="2244.2" y2="1011" stroke="#000" stroke-width="5.8" stroke-linecap="round"/>
<line x1="2220.2" y1="1169.3" x2="2244.2" y2="1169.3" stroke="#000" stroke-width="5.8" stroke-linecap="round"/>
<g font-family="Liberation Sans, sans-serif" font-size="64" fill="#000" stroke="#000" stroke-width="0.7" stroke-linejoin="round"><text transform="translate(948.6,1400.9) scale(1.076,1.0)" >Temperature</text><text transform="translate(1352.8,1400.9) scale(1.05,1.0)" >(</text><text transform="translate(1375.6,1372.4) scale(1.0,1.0)" font-size="38">o</text><text transform="translate(1397.4,1400.9) scale(1.05,1.0)" >C)</text></g>
<text transform="translate(95.4,627) rotate(-90) scale(1.0,1.04)" font-family="Liberation Sans, sans-serif" font-size="64" text-anchor="middle" fill="#000" stroke="#000" stroke-width="0.7" stroke-linejoin="round">Heat Flow (a.u.)</text>
<line x1="227.3" y1="164.4" x2="376.5" y2="164.4" stroke="#000" stroke-width="7.1" stroke-linecap="round"/>
<g fill="#000" stroke="#000" stroke-width="0.7" stroke-linejoin="round" font-size="64"><text transform="translate(396.5,185) scale(1.3,1.0)" font-family="Liberation Serif, serif" font-style="italic" stroke-width="0">β</text><text transform="translate(448.5,188.4) scale(1.2,1.0)" font-family="Liberation Serif, serif" stroke-width="0.8">=</text><text transform="translate(503,185) scale(1.065,1.0)" font-family="Liberation Serif, serif" stroke-width="0.3">5.0</text><text transform="translate(589.7,155) scale(1.0,1.0)" font-family="Liberation Serif, serif" font-size="40" stroke-width="0.3">o</text><text transform="translate(610.2,185) scale(1.03,1.0)" font-family="Liberation Sans, sans-serif">C/min</text></g>
<line x1="227.3" y1="256.8" x2="250.9" y2="256.8" stroke="#f00" stroke-width="7.1" stroke-linecap="round"/>
<line x1="283.9" y1="256.8" x2="307.5" y2="256.8" stroke="#f00" stroke-width="7.1" stroke-linecap="round"/>
<line x1="340.5" y1="256.8" x2="364.1" y2="256.8" stroke="#f00" stroke-width="7.1" stroke-linecap="round"/>
<g fill="#f00" stroke="#f00" stroke-width="0.7" stroke-linejoin="round" font-size="64"><text transform="translate(396.5,278) scale(1.3,1.0)" font-family="Liberation Serif, serif" font-style="italic" stroke-width="0">β</text><text transform="translate(448.5,281.4) scale(1.2,1.0)" font-family="Liberation Serif, serif" stroke-width="0.8">=</text><text transform="translate(503,278) scale(1.065,1.0)" font-family="Liberation Serif, serif" stroke-width="0.3">10.0</text><text transform="translate(623.8,248) scale(1.0,1.0)" font-family="Liberation Serif, serif" font-size="40" stroke-width="0.3">o</text><text transform="translate(644.3,278) scale(1.03,1.0)" font-family="Liberation Sans, sans-serif">C/min</text></g>
<line x1="227.3" y1="349.9" x2="256.5" y2="349.9" stroke="#00f" stroke-width="7.1" stroke-linecap="round"/>
<line x1="275" y1="349.9" x2="278.7" y2="349.9" stroke="#00f" stroke-width="7.1" stroke-linecap="round"/>
<line x1="298.9" y1="349.9" x2="328.1" y2="349.9" stroke="#00f" stroke-width="7.1" stroke-linecap="round"/>
<line x1="346.6" y1="349.9" x2="350.3" y2="349.9" stroke="#00f" stroke-width="7.1" stroke-linecap="round"/>
<line x1="370.5" y1="349.9" x2="374.7" y2="349.9" stroke="#00f" stroke-width="7.1" stroke-linecap="round"/>
<g fill="#00f" stroke="#00f" stroke-width="0.7" stroke-linejoin="round" font-size="64"><text transform="translate(396.5,370.6) scale(1.3,1.0)" font-family="Liberation Serif, serif" font-style="italic" stroke-width="0">β</text><text transform="translate(448.5,374) scale(1.2,1.0)" font-family="Liberation Serif, serif" stroke-width="0.8">=</text><text transform="translate(503,370.6) scale(1.065,1.0)" font-family="Liberation Serif, serif" stroke-width="0.3">20.0</text><text transform="translate(623.8,340.6) scale(1.0,1.0)" font-family="Liberation Serif, serif" font-size="40" stroke-width="0.3">o</text><text transform="translate(644.3,370.6) scale(1.03,1.0)" font-family="Liberation Sans, sans-serif">C/min</text></g>
<g transform="translate(1539,183.2) scale(1.037,1.0)" font-family="Liberation Sans, sans-serif" font-size="64" fill="#000" stroke="#000" stroke-width="0.7" stroke-linejoin="round"><text x="0" y="0">NH</text><text x="93" y="21.5" font-size="38">4</text><text x="113.5" y="0">ClO</text><text x="230.5" y="21.5" font-size="38">4</text><text x="270" y="0">+ Al</text><text x="449" y="0"><tspan font-weight="bold">A</tspan> (<tspan font-weight="bold">+</tspan>)</text></g>
<clipPath id="cB"><rect x="188.5" y="1513.6" width="2060.1" height="1227.1"/></clipPath>
<g clip-path="url(#cB)">
<path d="M188.5,2549L190.8,2545.5L194.2,2543L198.6,2539.9L202.5,2538.5L207.5,2537.4L212.5,2537.9L217.5,2536.1L222.9,2536.8L227,2539.4L231.3,2540.6L235.8,2544.6L240.3,2546L245.4,2547.2L251.2,2549.1L256.3,2548.3L260.7,2550.2L264.8,2553.7L267.7,2558.2L271.4,2559.3L275.3,2561.8L279.8,2560.8L285.6,2558.7L290.8,2559.2L295.7,2556L301,2556.4L306.5,2554.6L311.3,2553.4L316,2554.3L321.1,2550.2L324.9,2547.3L328.8,2551.5L333.6,2554.3L337.9,2551.8L342.3,2550.4L346.9,2547.2L351,2544.4L354.8,2540.1L357.2,2533.8L359.8,2529.8L364.6,2528.4L369.7,2525.1L374.4,2524L379.3,2520.8L384.4,2515.1L389,2515.2L393,2517.9L396.9,2524.1L400.6,2526.9L404.7,2525.5L409.4,2519.3L412.6,2515.7L416.2,2513.5L420.6,2512.6L424,2509.4L428.3,2505.5L431.4,2502.1L435.6,2497.7L438.7,2493.1L441.8,2489.4L443.9,2484.4L447.3,2480.2L450.8,2476.3L454.8,2472.7L458.9,2468.6L461.9,2465.1L464.3,2460L467.7,2455.2L470,2451.1L471.6,2446.8L474,2442.8L476.5,2437.6L479.3,2433.6L481.8,2429L484.4,2424.8L487.8,2420.8L491.3,2417.8L493.9,2413.2L496.5,2409.2L499.5,2405.5L502.7,2400.9L505.3,2396.7L508.5,2392.8L511.1,2389.4L514.6,2385.1L516.9,2381.3L520.5,2377.3L523,2373.6L525.3,2369.2L527.9,2365.1L529.7,2359.5L532.1,2355.1L534.7,2349L536.3,2345.2L538.3,2341.4L540,2336.9L541.6,2332.2L543.7,2326.9L546.2,2322.5L547.7,2318L549.3,2314L551.2,2309.7L553.1,2305L554.2,2300.2L556.6,2295L558,2290.6L559.8,2286.5L560.9,2282L563.1,2277.3L564.4,2273.3L565.8,2269.2L567.6,2264.2L569,2259.7L571,2254L572.6,2250.2L574.2,2246.1L575.8,2241.5L577.2,2236.7L579.2,2231.9L581.2,2226.3L583.6,2221.8L584.9,2216.3L587.2,2211.4L589.3,2207L590.4,2203.1L592.1,2198.8L593.7,2194.4L596,2188.9L597.8,2184.7L599.1,2180.2L600.7,2175.8L603,2169.9L604.7,2164.8L605.9,2160.6L607.1,2155.5L608.6,2151.4L610.4,2145.7L611.7,2141.3L613.2,2135.9L614.4,2130.5L615.4,2126L616.8,2120.3L617.7,2115.4L619.6,2110.8L621,2105.8L622,2100.6L623,2095.3L625.2,2090.5L626.1,2086.6L627.4,2081.1L629,2076.5L630.9,2072.2L631.9,2068L633.5,2062.7L635.2,2058.7L636.2,2054.2L638.2,2049.3L639.6,2045.3L641.5,2040.8L642.8,2035.5L644.5,2031L645.6,2027.2L647.3,2021.7L648.6,2018.2L650.6,2012.8L652.6,2008.7L654.3,2003.9L655.9,1999.8L657,1995.7L658.4,1991L661.1,1985.4L662.3,1980.3L664.1,1975.8L665.8,1971.1L668.4,1965.2L670,1960.9L671.7,1956.4L672.7,1952.6L674.6,1949L677.4,1943.1L680.1,1939.1L682.1,1935.4L684.1,1932.1L686.3,1928.7L690.2,1923.7L693.5,1919.5L697.9,1917L701.7,1917L706.2,1917.2L710.5,1918L715.4,1920L719.7,1921L724.5,1919.7L729.1,1921.4L732.9,1922.9L735.7,1925.9L736.9,1931.1L739,1935.7L741.6,1940.3L744.8,1944.2L748.5,1947.7L752.1,1950.7L756.2,1955L759.5,1958.1L762,1962.7L765.6,1966.8L767.8,1971.1L770.8,1975.3L773.2,1979L775.9,1984.1L777.6,1988.2L780.1,1993.2L782.4,1998.6L783.4,2002.2L784.2,2007L785.8,2011.5L786.8,2016.8L788.1,2021.8L788.2,2026.7L789.6,2031.5L791.2,2036.5L792.3,2041.5L794.9,2045.9L796.1,2049.8L798.4,2054.3L800,2057.9L801.5,2062.4L803.4,2067.3L805.7,2071.5L807.6,2075.3L809.1,2080.5L810.4,2084.3L811.9,2090L813.6,2093.9L815.1,2099.4L817,2103.2L818.6,2108L820.3,2112.3L822.1,2116.5L824.4,2121.3L825.8,2126.8L827.6,2131.4L829.4,2136.2L830.9,2140.3L833.1,2143.7L834.9,2147.3L837.4,2152.1L841.2,2155.2L843.6,2157.5L846.9,2161L849.5,2164.8L851.5,2168.2L853.9,2172.6L855.7,2176.1L857.3,2181L859.8,2185.1L861.6,2189.8L864,2194L866.3,2199L869.2,2204L870.9,2208.8L873.4,2213.2L876,2218.4L878.6,2223L880.4,2227.7L883,2231.4L885.3,2236.8L886.8,2240.4L888.8,2245.1L890.9,2249.3L893.2,2252.2L896.9,2255.6L900.8,2259.8L904.1,2260.5L907.8,2263.9L912.6,2268.7L916.9,2270.3L920.4,2274.9L922.8,2278.3L924.8,2283.9L926.1,2288.2L929,2291.2L933,2294.3L937.6,2294L942.7,2294.8L946.6,2295.3L949.8,2298.7L952.3,2301.9L954.7,2306L958.3,2309.8L962.2,2311.3L966.9,2314.7L971,2316.7L975.8,2320.3L978.9,2324.2L982.7,2327.8L986.9,2330.5L989.6,2332.7L993.3,2336L998.2,2338.1L1002.6,2335.7L1007.8,2337.8L1010.6,2340.7L1014.9,2345.2L1018.2,2348.8L1022,2353.6L1025.3,2356.5L1030,2359.2L1034.6,2360.7L1038.9,2360.6L1042.8,2362.3L1046,2366.1L1048.1,2372.1L1050.6,2377.6L1054.5,2381L1059.7,2381.2L1064.5,2380.2L1070.5,2379.4L1074.9,2378.6L1078.7,2382L1082.4,2387.9L1086.5,2391.4L1090.8,2393.7L1095.4,2393.2L1099.7,2392L1104,2392.6L1108.6,2392.6L1113.6,2395L1117.4,2397.8L1121.5,2400.2L1124.6,2404.1L1126.8,2408.8L1130.2,2411.8L1134.3,2411.2L1139.6,2412.3L1146,2408.3L1150.6,2407.8L1155.9,2406.2L1160.4,2404.9L1165.2,2403L1169.2,2404L1173.4,2409L1176.9,2410.9L1181.8,2411.7L1185.6,2413.6L1189.8,2411.4L1192.7,2406.4L1196.3,2401.2L1199.7,2396.7L1203,2394.4L1207.9,2394.7L1212.3,2399.9L1216.5,2402.9L1220.6,2404.3L1225.8,2401.6L1230.2,2397.2L1235.2,2397.3L1238.6,2399.5L1242.1,2402.7L1245.3,2406.7L1249.5,2411.9L1252.3,2415.5L1255.6,2417.7L1260.8,2418.7L1265.4,2416.8L1270,2414.8L1274.9,2416L1279.6,2419.3L1284.7,2422.3L1288.5,2422.8L1293.8,2423.4L1297.6,2424.3L1302.2,2426.4L1306.2,2428.8L1309.7,2432.1L1313,2434.8L1316.8,2437L1319.8,2435.1L1322.3,2431.8L1325.5,2427.1L1328.4,2423.5L1332.6,2419.9L1336.5,2419L1341.8,2416.8L1345.9,2417.7L1351.3,2418.7L1355.8,2423.7L1360.5,2423.5L1365.1,2423.4L1370.4,2420.1L1375,2417.7L1381.3,2418.4L1386.7,2420.6L1391.4,2418.3L1396.7,2412.9L1401.3,2411.8L1407.2,2413.9L1413,2413.6L1416.2,2410.8L1418.6,2406.1L1421.7,2403L1427.5,2404.8L1433.3,2406L1438,2401.1L1442,2397.3L1445.2,2398.8L1449.9,2398.9L1453.7,2403L1457.4,2406.1L1460.4,2410.5L1464.3,2414.9L1468.3,2417.7L1472.7,2416.6L1478.4,2416.1L1482.9,2416L1487.7,2418.8L1492.7,2423.6L1497.5,2425.3L1502.2,2425.6L1507.2,2421.9L1512,2419.4L1516.9,2415L1521.7,2413.6L1526.6,2410.7L1531.2,2414L1536.4,2415.9L1541.2,2419.4L1545,2418L1548.4,2414L1552,2409L1555.7,2407.8L1560.7,2407.2L1565.3,2410.7L1570.3,2414.8L1574.6,2416.4L1578.8,2418.9L1583.6,2417.7L1587.8,2419.4L1591.7,2417.6L1596,2415.5L1600.9,2411.6L1605.3,2411.8L1610.4,2414.5L1615.7,2415.6L1621.4,2419.3L1625.7,2419.4L1631,2419.6L1635.7,2414.8L1640.3,2414.8L1644.1,2415.6L1647.6,2420.8L1651.9,2422.3L1655.7,2419.9L1660.8,2418.5L1666.4,2417.3L1670,2414.8L1673.3,2411.4L1676.5,2406.8L1678.9,2404.3L1684.2,2402.1L1690.5,2403L1694.3,2400.5L1697.6,2398.2L1701.3,2392.3L1705,2391.4L1711.4,2387.3L1716.8,2388.5L1720.1,2391.3L1724.8,2391.7L1728.4,2394.4L1733.3,2394.4L1738.5,2390.3L1743,2389.7L1747.9,2390.9L1752.3,2393.6L1757.6,2397.3L1762.4,2399.6L1767,2402L1772,2404.3L1775.5,2408.6L1779.7,2413.6L1783.8,2416L1788.3,2416.6L1792.1,2414.6L1796.5,2411.4L1801.3,2411.8L1805.4,2411.9L1810.6,2415.2L1814.4,2416.6L1818.8,2417.7L1823.8,2418.5L1829.3,2420.6L1833.4,2423.5L1836.8,2426.9L1838.7,2431.5L1842,2433.4L1844.7,2431.6L1848,2427.1L1851,2421.2L1853.8,2417.7L1858.7,2415.3L1864,2413.3L1868.3,2411.8L1872.6,2408.5L1875.6,2403.7L1880,2400L1884.8,2399L1889,2395.6L1894.6,2394.4L1898.3,2393.7L1902.7,2389.8L1907.4,2386L1912,2385.6L1916.5,2383.2L1922,2383.9L1926.8,2382.5L1931.2,2381.1L1935.4,2382.7L1939.3,2386.1L1943,2388.6L1947,2389.7L1950.9,2390.1L1956.3,2389.7L1960.6,2385.9L1965.7,2385.9L1970.3,2384.4L1975.4,2382.3L1980.4,2382.2L1984.9,2381.5L1989.5,2380.8L1995.2,2380.3L2001.1,2379.6L2005.3,2379.8L2009.3,2383.9L2010.9,2389.7L2014,2394.4L2017.8,2397.6L2022.9,2397.3L2028.6,2399L2032.9,2399.4L2037.3,2396.9L2043,2398.2L2047.4,2394.5L2052,2394.4L2056.4,2392.1L2060,2388.9L2063.8,2386.9L2066.5,2382.7L2069.7,2378.9L2072.8,2374L2075.3,2369.4L2078.2,2365.2L2081.2,2361.3L2084.8,2356.4L2089,2352.5L2092.7,2349.5L2097,2347.7L2101.8,2346.4L2106.1,2343.8L2110.2,2343.6L2113.5,2340.9L2116.1,2337.5L2118.7,2333.6L2121.9,2330.2L2126.7,2328L2132,2322.9L2136.5,2323.2L2141.2,2326.5L2145.2,2330.2L2148.8,2327.1L2153.4,2326L2156.9,2324.4L2160.8,2325.7L2165,2329.2L2168.5,2333L2171.7,2336L2173.6,2339.7L2176.8,2343.9L2180.2,2347.7L2183.9,2350.9L2186.9,2354.9L2190.6,2356.4L2194.1,2358.7L2197.7,2362.3L2204.1,2365.4L2209.3,2365.2L2212.8,2368.5L2215.8,2371.5L2219.7,2371.5L2223.9,2375L2228.7,2374.9L2234.5,2376.8L2239.7,2375.9L2245.5,2376.1L2248.6,2375.7" fill="none" stroke="#000" stroke-width="3" stroke-linejoin="round"/>
<path d="M523,2373.6C527.4,2366.3 530.3,2358.9 534.7,2349C539.1,2339.1 544.9,2325.2 549.3,2314C553.7,2302.8 557.3,2292 560.9,2282C564.5,2272 566.6,2265.8 571,2254C575.4,2242.2 581.6,2226.3 587.2,2211.4C592.8,2196.5 598.9,2183.3 604.7,2164.8C610.5,2146.3 616.2,2120.5 622,2100.6C627.8,2080.7 633.8,2062.8 639.6,2045.3C645.4,2027.8 651.2,2011.8 657,1995.7C662.8,1979.7 669.7,1960.2 674.6,1949" fill="none" stroke="#000" stroke-width="6.8" stroke-dasharray="26 6" stroke-linecap="round"/>
<path d="M770.8,1975.3C775.2,1982.6 779,1988.4 782.4,1998.6C785.8,2008.8 787.3,2024.3 791.2,2036.5C795.1,2048.7 800.9,2058.9 805.7,2071.5C810.6,2084.1 815.4,2099.7 820.3,2112.3C825.2,2124.9 830,2138.6 834.9,2147.3" fill="none" stroke="#000" stroke-width="6.8" stroke-dasharray="26 6" stroke-linecap="round"/>
<path d="M849.5,2164.8C854.4,2172.6 859.1,2184.3 864,2194" fill="none" stroke="#000" stroke-width="6.8" stroke-dasharray="26 6" stroke-linecap="round"/>
<path d="M351,2544.4C355.4,2540.3 355.9,2533.2 359.8,2529.8" fill="none" stroke="#000" stroke-width="6.8" stroke-dasharray="7 19" stroke-linecap="round"/>
<path d="M389,2515.2C393.4,2515.7 397.2,2526.2 400.6,2526.9" fill="none" stroke="#000" stroke-width="6.8" stroke-dasharray="7 19" stroke-linecap="round"/>
<path d="M424,2509.4C428.4,2505.8 431.7,2502.6 435.6,2497.7C439.5,2492.8 443.4,2485 447.3,2480.2C451.2,2475.3 455.5,2472.8 458.9,2468.6C462.3,2464.4 464.3,2461 467.7,2455.2C471.1,2449.4 474.9,2440.6 479.3,2433.6C483.7,2426.6 489,2420 493.9,2413.2C498.8,2406.4 503.6,2399.4 508.5,2392.8C513.4,2386.2 518.6,2380.9 523,2373.6" fill="none" stroke="#000" stroke-width="6.8" stroke-dasharray="7 19" stroke-linecap="round"/>
<path d="M674.6,1949C679.5,1937.8 682.4,1934 686.3,1928.7C690.2,1923.4 693,1918.5 697.9,1917" fill="none" stroke="#000" stroke-width="6.8" stroke-dasharray="7 19" stroke-linecap="round"/>
<path d="M732.9,1922.9C737.3,1926.3 737.7,1935 741.6,1940.3C745.5,1945.6 751.3,1949.2 756.2,1955C761.1,1960.8 766.4,1968 770.8,1975.3" fill="none" stroke="#000" stroke-width="6.8" stroke-dasharray="7 19" stroke-linecap="round"/>
<path d="M834.9,2147.3C839.8,2156.1 844.6,2157 849.5,2164.8" fill="none" stroke="#000" stroke-width="6.8" stroke-dasharray="7 19" stroke-linecap="round"/>
<path d="M864,2194C868.9,2203.7 873.7,2213.3 878.6,2223C883.5,2232.7 888.3,2245.4 893.2,2252.2" fill="none" stroke="#000" stroke-width="6.8" stroke-dasharray="7 19" stroke-linecap="round"/>
<path d="M920.4,2274.9C923.9,2279.4 924.6,2287.8 929,2291.2" fill="none" stroke="#000" stroke-width="6.8" stroke-dasharray="7 19" stroke-linecap="round"/>
<path d="M946.6,2295.3C951.5,2298.4 953.4,2305.6 958.3,2309.8" fill="none" stroke="#000" stroke-width="6.8" stroke-dasharray="7 19" stroke-linecap="round"/>
<path d="M1007.8,2337.8C1013.1,2341.2 1019.5,2352.4 1025.3,2356.5" fill="none" stroke="#000" stroke-width="6.8" stroke-dasharray="7 19" stroke-linecap="round"/>
<path d="M1042.8,2362.3C1047.7,2366.4 1049.2,2378.3 1054.5,2381" fill="none" stroke="#000" stroke-width="6.8" stroke-dasharray="7 19" stroke-linecap="round"/>
<path d="M1074.9,2378.6C1080.2,2380.3 1081.7,2389.1 1086.5,2391.4" fill="none" stroke="#000" stroke-width="6.8" stroke-dasharray="7 19" stroke-linecap="round"/>
<path d="M1121.5,2400.2C1125.9,2403.4 1125.4,2410.5 1130.2,2411.8" fill="none" stroke="#000" stroke-width="6.8" stroke-dasharray="7 19" stroke-linecap="round"/>
<path d="M1185.6,2413.6C1191.9,2412.2 1197.2,2395.9 1203,2394.4" fill="none" stroke="#000" stroke-width="6.8" stroke-dasharray="7 19" stroke-linecap="round"/>
<path d="M1235.2,2397.3C1241,2399.5 1249.8,2414.8 1255.6,2417.7" fill="none" stroke="#000" stroke-width="6.8" stroke-dasharray="7 19" stroke-linecap="round"/>
<path d="M1316.8,2437C1321.2,2436.5 1323.6,2426.7 1328.4,2423.5" fill="none" stroke="#000" stroke-width="6.8" stroke-dasharray="7 19" stroke-linecap="round"/>
<path d="M1413,2413.6C1416.4,2412.1 1418.3,2404.3 1421.7,2403" fill="none" stroke="#000" stroke-width="6.8" stroke-dasharray="7 19" stroke-linecap="round"/>
<path d="M1433.3,2406C1436.7,2405.1 1438.6,2397.8 1442,2397.3" fill="none" stroke="#000" stroke-width="6.8" stroke-dasharray="7 19" stroke-linecap="round"/>
<path d="M1453.7,2403C1458.1,2406.4 1463.4,2415.5 1468.3,2417.7" fill="none" stroke="#000" stroke-width="6.8" stroke-dasharray="7 19" stroke-linecap="round"/>
<path d="M1670,2414.8C1674.5,2411.8 1675.5,2406.3 1678.9,2404.3" fill="none" stroke="#000" stroke-width="6.8" stroke-dasharray="7 19" stroke-linecap="round"/>
<path d="M1772,2404.3C1776.4,2407.4 1778.9,2414.8 1783.8,2416" fill="none" stroke="#000" stroke-width="6.8" stroke-dasharray="7 19" stroke-linecap="round"/>
<path d="M1833.4,2423.5C1837.3,2426.1 1838.6,2434.4 1842,2433.4C1845.4,2432.4 1849.4,2421.3 1853.8,2417.7" fill="none" stroke="#000" stroke-width="6.8" stroke-dasharray="7 19" stroke-linecap="round"/>
<path d="M1868.3,2411.8C1872.7,2408.9 1875.6,2402.9 1880,2400" fill="none" stroke="#000" stroke-width="6.8" stroke-dasharray="7 19" stroke-linecap="round"/>
<path d="M2005.3,2379.8C2010.1,2382 2010.1,2391.2 2014,2394.4" fill="none" stroke="#000" stroke-width="6.8" stroke-dasharray="7 19" stroke-linecap="round"/>
<path d="M2066.5,2382.7C2070.9,2377.8 2073.8,2370.7 2078.2,2365.2C2082.6,2359.7 2087.4,2353.1 2092.7,2349.5" fill="none" stroke="#000" stroke-width="6.8" stroke-dasharray="7 19" stroke-linecap="round"/>
<path d="M2110.2,2343.6C2115.1,2340.4 2117.5,2333.6 2121.9,2330.2" fill="none" stroke="#000" stroke-width="6.8" stroke-dasharray="7 19" stroke-linecap="round"/>
<path d="M2168.5,2333C2172.4,2336.9 2175.3,2342.8 2180.2,2347.7" fill="none" stroke="#000" stroke-width="6.8" stroke-dasharray="7 19" stroke-linecap="round"/>
<path d="M188.5,2613.4C191.8,2612.3 200.2,2609 208.3,2606.7C216.5,2604.4 227.7,2601.2 237.4,2599.7C247.1,2598.1 256.9,2598.4 266.6,2597.4C276.3,2596.4 286,2594.7 295.7,2593.9C305.4,2593.1 315.2,2592.9 324.9,2592.7C334.6,2592.5 344.3,2593.5 354,2592.7C363.7,2591.9 373.3,2589.6 383,2588C392.7,2586.4 402.6,2585.3 412.3,2583.4C422,2581.5 431.7,2578.4 441.4,2576.4C451.1,2574.4 462.8,2573.8 470.6,2571.7C478.4,2569.6 482.2,2565.9 488,2563.6C493.8,2561.3 498.8,2558.6 505.6,2557.8C512.4,2557 520.2,2559.8 528.9,2559C537.6,2558.2 548.3,2555.9 558,2553C567.7,2550.1 577.3,2544.8 587,2541.4C596.7,2538 606.5,2536.6 616.3,2532.7C626,2528.8 637.7,2521.9 645.5,2518C653.3,2514.1 656.6,2512.4 662.9,2509.4C669.2,2506.5 677.9,2504 683.3,2500.3C688.6,2496.6 690.6,2492 695,2487.4C699.4,2482.9 704.8,2478.3 709.6,2473.3C714.4,2468.2 719.1,2462.8 724,2457C728.9,2451.3 733.3,2446 738.7,2438.8C744.1,2431.7 750.4,2423.3 756.2,2414C762,2404.7 767.9,2394 773.7,2382.8C779.5,2371.5 785.4,2359.2 791.2,2346.5C797,2333.8 802.9,2320.5 808.7,2306.4C814.5,2292.2 820.2,2277.6 826,2261.6C831.8,2245.6 838.2,2226.7 843.6,2210.4C849,2194 853.3,2179.9 858.2,2163.3C863.1,2146.7 867.9,2128.9 872.8,2110.9C877.7,2092.8 882.5,2073.5 887.4,2054.7C892.2,2035.9 897.8,2014.1 901.9,1998.2C906,1982.2 907.7,1975.1 911.7,1959.2C915.8,1943.2 921.4,1918.8 926.2,1902.6C931.1,1886.4 935.4,1874.9 940.8,1861.8C946.1,1848.7 952.5,1834.7 958.3,1824C964.1,1813.3 970.9,1804.1 975.8,1797.7C980.6,1791.3 983.5,1788 987.4,1785.6C991.3,1783.1 995.1,1782.3 999,1783C1002.9,1783.7 1006.3,1785.8 1010.7,1789.7C1015.1,1793.6 1019.9,1798.5 1025.3,1806.5C1030.6,1814.5 1037,1826.4 1042.8,1838C1048.6,1849.5 1054.5,1862.8 1060.3,1875.8C1066.1,1888.8 1072,1902.8 1077.8,1916C1083.6,1929.2 1089.5,1941.3 1095.3,1955C1101.1,1968.7 1107,1983.9 1112.8,1998.3C1118.6,2012.7 1124.4,2026.9 1130.2,2041.4C1136,2055.8 1142.9,2072.8 1147.7,2084.8C1152.5,2096.8 1155.6,2105.1 1159,2113.5C1162.4,2121.8 1163.6,2125.7 1168,2135C1172.4,2144.3 1179.8,2158.3 1185.6,2169.1C1191.4,2179.9 1197.2,2189.6 1203,2199.7C1208.8,2209.7 1214.8,2220.2 1220.6,2229.3C1226.4,2238.5 1232.2,2246.5 1238,2254.4C1243.8,2262.3 1249.8,2269.2 1255.6,2276.8C1261.4,2284.3 1266.2,2291.1 1273,2299.7C1279.8,2308.3 1288.6,2319.8 1296.4,2328.3C1304.2,2336.8 1311.9,2343.6 1319.7,2350.9C1327.5,2358.1 1335.2,2365.7 1343,2372C1350.8,2378.3 1358.5,2383 1366.3,2388.7C1374.1,2394.3 1381.8,2400.2 1389.6,2406C1397.4,2411.8 1405.2,2417.9 1413,2423.2C1420.8,2428.5 1428.5,2433.4 1436.3,2437.9C1444.1,2442.3 1451.8,2445.8 1459.6,2449.7C1467.4,2453.6 1474.2,2458 1482.9,2461.4C1491.6,2464.8 1502.3,2466.9 1512,2470C1521.7,2473.1 1531.9,2477.3 1541.2,2480C1550.5,2482.7 1558.7,2484 1568,2485.9C1577.3,2487.8 1587.6,2488.8 1597.3,2491.7C1607,2494.6 1616.7,2500.5 1626.4,2503.4C1636.1,2506.3 1644.9,2506.7 1655.6,2509.2C1666.3,2511.7 1679.8,2517.7 1690.5,2518.5C1701.2,2519.3 1711,2513.9 1719.7,2513.9C1728.5,2513.9 1734.3,2518.7 1743,2518.5C1751.7,2518.3 1762.3,2513.8 1772,2512.7C1781.7,2511.6 1791.6,2512.1 1801.3,2512C1811,2511.9 1821.7,2511.9 1830.4,2512C1839.2,2512.1 1845,2513.9 1853.8,2512.7C1862.6,2511.5 1873.3,2507.5 1883,2505C1892.7,2502.5 1903.3,2498.7 1912,2497.5C1920.7,2496.3 1927.6,2497.7 1935.4,2498C1943.2,2498.3 1950.9,2500.7 1958.7,2499.3C1966.5,2497.9 1974.2,2490.1 1982,2489.4C1989.8,2488.7 1998.5,2495 2005.3,2495.2C2012.1,2495.4 2016,2491.1 2022.8,2490.5C2029.6,2489.9 2037.2,2491.7 2046,2491.7C2054.8,2491.7 2066.5,2491.7 2075.3,2490.5C2084.1,2489.3 2091.8,2486.1 2098.6,2484.7C2105.4,2483.2 2109.2,2481.8 2116,2481.8C2122.8,2481.8 2131.1,2484.4 2139.4,2484.7C2147.7,2485 2156.9,2484 2165.6,2483.5C2174.3,2483 2183.6,2483.1 2191.8,2481.8C2200,2480.5 2209.2,2478.4 2215,2476C2220.8,2473.5 2221.2,2468.4 2226.8,2467.2C2232.4,2466 2245,2468.3 2248.6,2468.5" fill="none" stroke="#f00" stroke-width="3.6" stroke-linejoin="round"/>
<path d="M188.5,2613.4C191.8,2612.3 200.2,2609 208.3,2606.7C216.5,2604.4 227.7,2601.2 237.4,2599.7C247.1,2598.1 256.9,2598.4 266.6,2597.4C276.3,2596.4 286,2594.7 295.7,2593.9C305.4,2593.1 315.2,2592.9 324.9,2592.7C334.6,2592.5 344.3,2593.5 354,2592.7C363.7,2591.9 373.3,2589.6 383,2588C392.7,2586.4 402.6,2585.3 412.3,2583.4C422,2581.5 431.7,2578.4 441.4,2576.4C451.1,2574.4 462.8,2573.8 470.6,2571.7C478.4,2569.6 482.2,2565.9 488,2563.6C493.8,2561.3 498.8,2558.6 505.6,2557.8C512.4,2557 520.2,2559.8 528.9,2559C537.6,2558.2 548.3,2555.9 558,2553C567.7,2550.1 577.3,2544.8 587,2541.4C596.7,2538 606.5,2536.6 616.3,2532.7C626,2528.8 637.7,2521.9 645.5,2518C653.3,2514.1 656.6,2512.4 662.9,2509.4C669.2,2506.5 677.9,2504 683.3,2500.3" fill="none" stroke="#f00" stroke-width="6.4" stroke-dasharray="3 13" stroke-linecap="round"/>
<path d="M683.3,2500.3C688.6,2496.6 690.6,2492 695,2487.4C699.4,2482.9 704.8,2478.3 709.6,2473.3C714.4,2468.2 719.1,2462.8 724,2457C728.9,2451.3 733.3,2446 738.7,2438.8C744.1,2431.7 750.4,2423.3 756.2,2414C762,2404.7 767.9,2394 773.7,2382.8C779.5,2371.5 785.4,2359.2 791.2,2346.5C797,2333.8 802.9,2320.5 808.7,2306.4C814.5,2292.2 820.2,2277.6 826,2261.6C831.8,2245.6 838.2,2226.7 843.6,2210.4C849,2194 853.3,2179.9 858.2,2163.3C863.1,2146.7 867.9,2128.9 872.8,2110.9C877.7,2092.8 882.5,2073.5 887.4,2054.7C892.2,2035.9 897.8,2014.1 901.9,1998.2C906,1982.2 907.7,1975.1 911.7,1959.2C915.8,1943.2 921.4,1918.8 926.2,1902.6C931.1,1886.4 935.4,1874.9 940.8,1861.8C946.1,1848.7 952.5,1834.7 958.3,1824C964.1,1813.3 970.9,1804.1 975.8,1797.7C980.6,1791.3 983.5,1788 987.4,1785.6C991.3,1783.1 995.1,1782.3 999,1783C1002.9,1783.7 1006.3,1785.8 1010.7,1789.7C1015.1,1793.6 1019.9,1798.5 1025.3,1806.5C1030.6,1814.5 1037,1826.4 1042.8,1838C1048.6,1849.5 1054.5,1862.8 1060.3,1875.8C1066.1,1888.8 1072,1902.8 1077.8,1916C1083.6,1929.2 1089.5,1941.3 1095.3,1955C1101.1,1968.7 1107,1983.9 1112.8,1998.3C1118.6,2012.7 1124.4,2026.9 1130.2,2041.4C1136,2055.8 1142.9,2072.8 1147.7,2084.8C1152.5,2096.8 1155.6,2105.1 1159,2113.5C1162.4,2121.8 1163.6,2125.7 1168,2135C1172.4,2144.3 1179.8,2158.3 1185.6,2169.1C1191.4,2179.9 1197.2,2189.6 1203,2199.7C1208.8,2209.7 1214.8,2220.2 1220.6,2229.3C1226.4,2238.5 1232.2,2246.5 1238,2254.4C1243.8,2262.3 1249.8,2269.2 1255.6,2276.8C1261.4,2284.3 1266.2,2291.1 1273,2299.7C1279.8,2308.3 1288.6,2319.8 1296.4,2328.3C1304.2,2336.8 1311.9,2343.6 1319.7,2350.9C1327.5,2358.1 1335.2,2365.7 1343,2372C1350.8,2378.3 1358.5,2383 1366.3,2388.7C1374.1,2394.3 1381.8,2400.2 1389.6,2406C1397.4,2411.8 1405.2,2417.9 1413,2423.2C1420.8,2428.5 1428.5,2433.4 1436.3,2437.9" fill="none" stroke="#f00" stroke-width="6.6" stroke-linecap="round"/>
<path d="M1436.3,2437.9C1444.1,2442.3 1451.8,2445.8 1459.6,2449.7C1467.4,2453.6 1474.2,2458 1482.9,2461.4C1491.6,2464.8 1502.3,2466.9 1512,2470C1521.7,2473.1 1531.9,2477.3 1541.2,2480C1550.5,2482.7 1558.7,2484 1568,2485.9C1577.3,2487.8 1587.6,2488.8 1597.3,2491.7C1607,2494.6 1616.7,2500.5 1626.4,2503.4C1636.1,2506.3 1644.9,2506.7 1655.6,2509.2C1666.3,2511.7 1679.8,2517.7 1690.5,2518.5C1701.2,2519.3 1711,2513.9 1719.7,2513.9C1728.5,2513.9 1734.3,2518.7 1743,2518.5C1751.7,2518.3 1762.3,2513.8 1772,2512.7C1781.7,2511.6 1791.6,2512.1 1801.3,2512C1811,2511.9 1821.7,2511.9 1830.4,2512C1839.2,2512.1 1845,2513.9 1853.8,2512.7C1862.6,2511.5 1873.3,2507.5 1883,2505C1892.7,2502.5 1903.3,2498.7 1912,2497.5C1920.7,2496.3 1927.6,2497.7 1935.4,2498C1943.2,2498.3 1950.9,2500.7 1958.7,2499.3C1966.5,2497.9 1974.2,2490.1 1982,2489.4C1989.8,2488.7 1998.5,2495 2005.3,2495.2C2012.1,2495.4 2016,2491.1 2022.8,2490.5C2029.6,2489.9 2037.2,2491.7 2046,2491.7C2054.8,2491.7 2066.5,2491.7 2075.3,2490.5C2084.1,2489.3 2091.8,2486.1 2098.6,2484.7C2105.4,2483.2 2109.2,2481.8 2116,2481.8C2122.8,2481.8 2131.1,2484.4 2139.4,2484.7C2147.7,2485 2156.9,2484 2165.6,2483.5C2174.3,2483 2183.6,2483.1 2191.8,2481.8C2200,2480.5 2209.2,2478.4 2215,2476" fill="none" stroke="#f00" stroke-width="6.4" stroke-dasharray="3 13" stroke-linecap="round"/>
<path d="M2215,2476C2220.8,2473.5 2221.2,2468.4 2226.8,2467.2C2232.4,2466 2245,2468.3 2248.6,2468.5" fill="none" stroke="#f00" stroke-width="6.6" stroke-linecap="round"/>
<path d="M188.5,2584C192.8,2581.3 205.8,2572.8 214,2567.8C222.2,2562.7 228.6,2558.7 237.4,2553.8C246.2,2548.9 256.9,2543.2 266.6,2538.5C276.3,2533.8 286,2529.1 295.7,2525.4C305.4,2521.8 315.2,2519.2 324.9,2516.5C334.6,2513.8 344.3,2511.7 354,2509.4C363.7,2507.1 373.3,2504.8 383,2502.6C392.7,2500.5 402.6,2498.5 412.3,2496.6C422,2494.7 431.7,2492.6 441.4,2491.1C451.1,2489.5 460.9,2488.4 470.6,2487.3C480.3,2486.2 490,2485.3 499.7,2484.5C509.4,2483.7 519.2,2483.2 528.9,2482.4C538.6,2481.7 548.3,2480.6 558,2479.9C567.7,2479.1 577.3,2478.5 587,2478.1C596.7,2477.7 606.5,2477.5 616.3,2477.5C626,2477.4 635.8,2477.7 645.5,2477.8C655.2,2477.9 664.9,2477.9 674.6,2477.9C684.3,2477.9 694,2477.8 703.7,2478C713.4,2478.1 722.2,2478.4 732.9,2478.7C743.6,2479 758.2,2480.3 767.9,2480C777.6,2479.8 784.9,2478 791.2,2477.2C797.5,2476.3 799.9,2475.2 805.7,2475.1C811.5,2475.1 818.7,2476.5 826,2476.9C833.3,2477.3 839.8,2477.7 849.5,2477.5C859.2,2477.3 876,2475.7 884.4,2475.6C892.8,2475.4 892.6,2476.6 900,2476.6C907.4,2476.6 919.3,2476.3 929,2475.6C938.7,2474.8 950.5,2472.9 958.3,2472C966.1,2471.2 969,2470.6 975.8,2470.5C982.6,2470.4 991.2,2471.6 999,2471.4C1006.8,2471.3 1014.6,2470.8 1022.4,2469.7C1030.2,2468.6 1037.9,2467.3 1045.7,2464.8C1053.5,2462.3 1061.2,2458.9 1069,2454.6C1076.8,2450.3 1084.6,2445.4 1092.4,2439C1100.2,2432.6 1108.9,2423.6 1115.7,2416C1122.5,2408.5 1127.4,2401.8 1133.2,2393.6C1139,2385.3 1144.8,2376.4 1150.6,2366.6C1156.4,2356.8 1162.2,2346.3 1168,2334.6C1173.8,2322.9 1179.8,2310 1185.6,2296.5C1191.4,2283 1197.7,2267.5 1203,2253.4C1208.3,2239.3 1212.8,2226.5 1217.7,2212.1C1222.6,2197.7 1227.8,2180.8 1232.2,2166.9C1236.6,2153 1240.5,2140.3 1243.9,2128.8C1247.3,2117.3 1249.2,2110.6 1252.6,2098.1C1256,2085.6 1259.9,2070.2 1264.3,2053.8C1268.7,2037.4 1274,2017.7 1278.9,1999.7C1283.8,1981.7 1288.7,1963.9 1293.5,1945.7C1298.3,1927.5 1303.2,1908.4 1308,1890.5C1312.8,1872.7 1317.7,1854.5 1322.6,1838.5C1327.5,1822.5 1332.3,1807.4 1337.2,1794.8C1342.1,1782.2 1346.9,1771.9 1351.7,1762.7C1356.5,1753.5 1361.4,1745.4 1366.3,1739.4C1371.2,1733.4 1375.1,1729.8 1380.9,1726.6C1386.7,1723.4 1395,1720.3 1401.3,1720.2C1407.6,1720.2 1413,1723.1 1418.8,1726.2C1424.6,1729.4 1430.5,1733.3 1436.3,1739.4C1442.1,1745.5 1447.9,1753.2 1453.7,1762.7C1459.5,1772.2 1465.4,1784.9 1471.2,1796.4C1477,1808 1481.9,1818.4 1488.7,1832.2C1495.5,1845.9 1504.2,1862.9 1512,1878.7C1519.8,1894.5 1527.6,1910.9 1535.4,1926.9C1543.2,1943 1550.9,1959.5 1558.7,1974.9C1566.5,1990.3 1574.2,2005 1582,2019.3C1589.8,2033.7 1597.5,2047 1605.3,2060.9C1613.1,2074.8 1622.2,2091.2 1628.6,2102.8C1635,2114.4 1637.5,2119.4 1643.9,2130.4C1650.3,2141.3 1659.4,2156.6 1667.2,2168.5C1675,2180.4 1682.7,2191 1690.5,2201.7C1698.3,2212.3 1705.2,2221.5 1713.9,2232.4C1722.7,2243.3 1733.3,2256.3 1743,2267.3C1752.7,2278.2 1762.3,2288.1 1772,2298C1781.7,2307.9 1791.6,2317.5 1801.3,2326.6C1811,2335.7 1820.7,2344.4 1830.4,2352.8C1840.1,2361.3 1849.9,2369.3 1859.6,2377.4C1869.3,2385.4 1879,2393.4 1888.7,2401.1C1898.4,2408.7 1908.2,2416.2 1917.9,2423.2C1927.6,2430.3 1937.3,2437 1947,2443.2C1956.7,2449.4 1966.3,2455.3 1976,2460.7C1985.7,2466 1995.5,2470.8 2005.3,2475.4C2015,2479.9 2024.8,2483.7 2034.5,2488C2044.2,2492.3 2053.9,2496.6 2063.6,2500.9C2073.3,2505.2 2083,2509.6 2092.7,2513.6C2102.4,2517.6 2112.2,2521.5 2121.9,2525C2131.6,2528.4 2141.3,2531.4 2151,2534.3C2160.7,2537.2 2170.5,2540.1 2180.2,2542.5C2189.9,2544.8 2197.9,2546.5 2209.3,2548.4C2220.7,2550.2 2242.1,2552.7 2248.6,2553.5" fill="none" stroke="#00f" stroke-width="6.8" stroke-linejoin="round" stroke-linecap="butt"/>
<line x1="1229.3" y1="2156" x2="1240.7" y2="2159.5" stroke="#fff" stroke-width="3"/>
</g>
<rect x="188.5" y="1513.6" width="2060.1" height="1227.1" fill="none" stroke="#000" stroke-width="5.8"/>
<line x1="281.6" y1="1501.8" x2="281.6" y2="1525.4" stroke="#000" stroke-width="5.8" stroke-linecap="round"/>
<line x1="281.6" y1="2728.9" x2="281.6" y2="2752.5" stroke="#000" stroke-width="5.8" stroke-linecap="round"/>
<line x1="469.2" y1="1490" x2="469.2" y2="1537.2" stroke="#000" stroke-width="5.8" stroke-linecap="round"/>
<line x1="469.2" y1="2717.1" x2="469.2" y2="2764.3" stroke="#000" stroke-width="5.8" stroke-linecap="round"/>
<text x="0" y="0" font-family="Liberation Sans, sans-serif" font-size="53" text-anchor="middle" fill="#000" stroke="#000" stroke-width="0.7" stroke-linejoin="round" transform="translate(469.2,2828) scale(1.055,1.03)">280</text>
<line x1="656.8" y1="1501.8" x2="656.8" y2="1525.4" stroke="#000" stroke-width="5.8" stroke-linecap="round"/>
<line x1="656.8" y1="2728.9" x2="656.8" y2="2752.5" stroke="#000" stroke-width="5.8" stroke-linecap="round"/>
<line x1="844.3" y1="1490" x2="844.3" y2="1537.2" stroke="#000" stroke-width="5.8" stroke-linecap="round"/>
<line x1="844.3" y1="2717.1" x2="844.3" y2="2764.3" stroke="#000" stroke-width="5.8" stroke-linecap="round"/>
<text x="0" y="0" font-family="Liberation Sans, sans-serif" font-size="53" text-anchor="middle" fill="#000" stroke="#000" stroke-width="0.7" stroke-linejoin="round" transform="translate(844.3,2828) scale(1.055,1.03)">300</text>
<line x1="1031.8" y1="1501.8" x2="1031.8" y2="1525.4" stroke="#000" stroke-width="5.8" stroke-linecap="round"/>
<line x1="1031.8" y1="2728.9" x2="1031.8" y2="2752.5" stroke="#000" stroke-width="5.8" stroke-linecap="round"/>
<line x1="1219.4" y1="1490" x2="1219.4" y2="1537.2" stroke="#000" stroke-width="5.8" stroke-linecap="round"/>
<line x1="1219.4" y1="2717.1" x2="1219.4" y2="2764.3" stroke="#000" stroke-width="5.8" stroke-linecap="round"/>
<text x="0" y="0" font-family="Liberation Sans, sans-serif" font-size="53" text-anchor="middle" fill="#000" stroke="#000" stroke-width="0.7" stroke-linejoin="round" transform="translate(1219.4,2828) scale(1.055,1.03)">320</text>
<line x1="1407" y1="1501.8" x2="1407" y2="1525.4" stroke="#000" stroke-width="5.8" stroke-linecap="round"/>
<line x1="1407" y1="2728.9" x2="1407" y2="2752.5" stroke="#000" stroke-width="5.8" stroke-linecap="round"/>
<line x1="1594.5" y1="1490" x2="1594.5" y2="1537.2" stroke="#000" stroke-width="5.8" stroke-linecap="round"/>
<line x1="1594.5" y1="2717.1" x2="1594.5" y2="2764.3" stroke="#000" stroke-width="5.8" stroke-linecap="round"/>
<text x="0" y="0" font-family="Liberation Sans, sans-serif" font-size="53" text-anchor="middle" fill="#000" stroke="#000" stroke-width="0.7" stroke-linejoin="round" transform="translate(1594.5,2828) scale(1.055,1.03)">340</text>
<line x1="1782" y1="1501.8" x2="1782" y2="1525.4" stroke="#000" stroke-width="5.8" stroke-linecap="round"/>
<line x1="1782" y1="2728.9" x2="1782" y2="2752.5" stroke="#000" stroke-width="5.8" stroke-linecap="round"/>
<line x1="1969.6" y1="1490" x2="1969.6" y2="1537.2" stroke="#000" stroke-width="5.8" stroke-linecap="round"/>
<line x1="1969.6" y1="2717.1" x2="1969.6" y2="2764.3" stroke="#000" stroke-width="5.8" stroke-linecap="round"/>
<text x="0" y="0" font-family="Liberation Sans, sans-serif" font-size="53" text-anchor="middle" fill="#000" stroke="#000" stroke-width="0.7" stroke-linejoin="round" transform="translate(1969.6,2828) scale(1.055,1.03)">360</text>
<line x1="2157.1" y1="1501.8" x2="2157.1" y2="1525.4" stroke="#000" stroke-width="5.8" stroke-linecap="round"/>
<line x1="2157.1" y1="2728.9" x2="2157.1" y2="2752.5" stroke="#000" stroke-width="5.8" stroke-linecap="round"/>
<line x1="164.1" y1="1636" x2="212.9" y2="1636" stroke="#000" stroke-width="5.8" stroke-linecap="round"/>
<line x1="164.1" y1="1881.5" x2="212.9" y2="1881.5" stroke="#000" stroke-width="5.8" stroke-linecap="round"/>
<line x1="164.1" y1="2126.9" x2="212.9" y2="2126.9" stroke="#000" stroke-width="5.8" stroke-linecap="round"/>
<line x1="164.1" y1="2372.3" x2="212.9" y2="2372.3" stroke="#000" stroke-width="5.8" stroke-linecap="round"/>
<line x1="164.1" y1="2617.8" x2="212.9" y2="2617.8" stroke="#000" stroke-width="5.8" stroke-linecap="round"/>
<line x1="176.5" y1="1513.6" x2="200.5" y2="1513.6" stroke="#000" stroke-width="5.8" stroke-linecap="round"/>
<line x1="176.5" y1="1758.8" x2="200.5" y2="1758.8" stroke="#000" stroke-width="5.8" stroke-linecap="round"/>
<line x1="176.5" y1="2004.2" x2="200.5" y2="2004.2" stroke="#000" stroke-width="5.8" stroke-linecap="round"/>
<line x1="176.5" y1="2249.6" x2="200.5" y2="2249.6" stroke="#000" stroke-width="5.8" stroke-linecap="round"/>
<line x1="176.5" y1="2495.1" x2="200.5" y2="2495.1" stroke="#000" stroke-width="5.8" stroke-linecap="round"/>
<line x1="176.5" y1="2740.7" x2="200.5" y2="2740.7" stroke="#000" stroke-width="5.8" stroke-linecap="round"/>
<line x1="2224.2" y1="1648.1" x2="2273" y2="1648.1" stroke="#000" stroke-width="5.8" stroke-linecap="round"/>
<line x1="2224.2" y1="1830.2" x2="2273" y2="1830.2" stroke="#000" stroke-width="5.8" stroke-linecap="round"/>
<line x1="2224.2" y1="2012.3" x2="2273" y2="2012.3" stroke="#000" stroke-width="5.8" stroke-linecap="round"/>
<line x1="2224.2" y1="2194.4" x2="2273" y2="2194.4" stroke="#000" stroke-width="5.8" stroke-linecap="round"/>
<line x1="2224.2" y1="2376.5" x2="2273" y2="2376.5" stroke="#000" stroke-width="5.8" stroke-linecap="round"/>
<line x1="2224.2" y1="2558.6" x2="2273" y2="2558.6" stroke="#000" stroke-width="5.8" stroke-linecap="round"/>
<line x1="2224.2" y1="2740.7" x2="2273" y2="2740.7" stroke="#000" stroke-width="5.8" stroke-linecap="round"/>
<line x1="2236.6" y1="1557" x2="2260.6" y2="1557" stroke="#000" stroke-width="5.8" stroke-linecap="round"/>
<line x1="2236.6" y1="1739.1" x2="2260.6" y2="1739.1" stroke="#000" stroke-width="5.8" stroke-linecap="round"/>
<line x1="2236.6" y1="1921.2" x2="2260.6" y2="1921.2" stroke="#000" stroke-width="5.8" stroke-linecap="round"/>
<line x1="2236.6" y1="2103.3" x2="2260.6" y2="2103.3" stroke="#000" stroke-width="5.8" stroke-linecap="round"/>
<line x1="2236.6" y1="2285.4" x2="2260.6" y2="2285.4" stroke="#000" stroke-width="5.8" stroke-linecap="round"/>
<line x1="2236.6" y1="2467.5" x2="2260.6" y2="2467.5" stroke="#000" stroke-width="5.8" stroke-linecap="round"/>
<line x1="2236.6" y1="2649.6" x2="2260.6" y2="2649.6" stroke="#000" stroke-width="5.8" stroke-linecap="round"/>
<g font-family="Liberation Sans, sans-serif" font-size="64" fill="#000" stroke="#000" stroke-width="0.7" stroke-linejoin="round"><text transform="translate(956.4,2945.7) scale(1.076,1.0883399999999999)" >Temperature</text><text transform="translate(1360.6,2945.7) scale(1.05,1.0883399999999999)" >(</text><text transform="translate(1383.4,2914.7) scale(1.0,1.0883399999999999)" font-size="38">o</text><text transform="translate(1405.2,2945.7) scale(1.05,1.0883399999999999)" >C)</text></g>
<text transform="translate(88.5,2122) rotate(-90) scale(1.067,1.095)" font-family="Liberation Sans, sans-serif" font-size="64" text-anchor="middle" fill="#000" stroke="#000" stroke-width="0.7" stroke-linejoin="round">Heat Flow (a.u.)</text>
<line x1="247.3" y1="1634.3" x2="398.2" y2="1634.3" stroke="#000" stroke-width="7.1" stroke-linecap="round"/>
<g fill="#000" stroke="#000" stroke-width="0.7" stroke-linejoin="round" font-size="64"><text transform="translate(417.2,1657.7) scale(1.3,1.067)" font-family="Liberation Serif, serif" font-style="italic" stroke-width="0">β</text><text transform="translate(469.2,1661.3) scale(1.2,1.067)" font-family="Liberation Serif, serif" stroke-width="0.8">=</text><text transform="translate(523.7,1657.7) scale(1.065,1.067)" font-family="Liberation Serif, serif" stroke-width="0.3">5.0</text><text transform="translate(610.4,1625.7) scale(1.0,1.067)" font-family="Liberation Serif, serif" font-size="40" stroke-width="0.3">o</text><text transform="translate(630.9,1657.7) scale(1.03,1.067)" font-family="Liberation Sans, sans-serif">C/min</text></g>
<line x1="247.3" y1="1733.5" x2="270.9" y2="1733.5" stroke="#f00" stroke-width="7.1" stroke-linecap="round"/>
<line x1="303.9" y1="1733.5" x2="327.5" y2="1733.5" stroke="#f00" stroke-width="7.1" stroke-linecap="round"/>
<line x1="360.5" y1="1733.5" x2="384.1" y2="1733.5" stroke="#f00" stroke-width="7.1" stroke-linecap="round"/>
<g fill="#f00" stroke="#f00" stroke-width="0.7" stroke-linejoin="round" font-size="64"><text transform="translate(417.2,1757) scale(1.3,1.067)" font-family="Liberation Serif, serif" font-style="italic" stroke-width="0">β</text><text transform="translate(469.2,1760.6) scale(1.2,1.067)" font-family="Liberation Serif, serif" stroke-width="0.8">=</text><text transform="translate(523.7,1757) scale(1.065,1.067)" font-family="Liberation Serif, serif" stroke-width="0.3">10.0</text><text transform="translate(644.5,1725) scale(1.0,1.067)" font-family="Liberation Serif, serif" font-size="40" stroke-width="0.3">o</text><text transform="translate(665,1757) scale(1.03,1.067)" font-family="Liberation Sans, sans-serif">C/min</text></g>
<line x1="247.3" y1="1832" x2="276.5" y2="1832" stroke="#00f" stroke-width="7.1" stroke-linecap="round"/>
<line x1="295" y1="1832" x2="298.7" y2="1832" stroke="#00f" stroke-width="7.1" stroke-linecap="round"/>
<line x1="318.9" y1="1832" x2="348.1" y2="1832" stroke="#00f" stroke-width="7.1" stroke-linecap="round"/>
<line x1="366.6" y1="1832" x2="370.3" y2="1832" stroke="#00f" stroke-width="7.1" stroke-linecap="round"/>
<line x1="390.5" y1="1832" x2="394.7" y2="1832" stroke="#00f" stroke-width="7.1" stroke-linecap="round"/>
<g fill="#00f" stroke="#00f" stroke-width="0.7" stroke-linejoin="round" font-size="64"><text transform="translate(417.2,1856.8) scale(1.3,1.067)" font-family="Liberation Serif, serif" font-style="italic" stroke-width="0">β</text><text transform="translate(469.2,1860.4) scale(1.2,1.067)" font-family="Liberation Serif, serif" stroke-width="0.8">=</text><text transform="translate(523.7,1856.8) scale(1.065,1.067)" font-family="Liberation Serif, serif" stroke-width="0.3">20.0</text><text transform="translate(644.5,1824.8) scale(1.0,1.067)" font-family="Liberation Serif, serif" font-size="40" stroke-width="0.3">o</text><text transform="translate(665,1856.8) scale(1.03,1.067)" font-family="Liberation Sans, sans-serif">C/min</text></g>
<g transform="translate(1536.5,1648.5) scale(1.037,1.067)" font-family="Liberation Sans, sans-serif" font-size="64" fill="#000" stroke="#000" stroke-width="0.7" stroke-linejoin="round"><text x="0" y="0">NH</text><text x="93" y="21.5" font-size="38">4</text><text x="113.5" y="0">ClO</text><text x="230.5" y="21.5" font-size="38">4</text><text x="270" y="0">+ Al</text><text x="455" y="0"><tspan font-weight="bold">B</tspan> (<tspan font-weight="bold">0</tspan>)</text></g>
<clipPath id="cC"><rect x="186.2" y="3057.8" width="2045.1" height="1204.9"/></clipPath>
<g clip-path="url(#cC)">
<path d="M186.2,4152.5L189.9,4148.7L194.4,4148.2L200,4144.6L205.4,4141L210.8,4141.5L214.9,4141.5L220,4142.8L225.8,4143.9L230,4142L235,4138.1L240.4,4136.1L244.8,4132.1L249,4132.2L254,4133.8L257.6,4132.8L261.6,4135.4L266.6,4137L272,4138.8L277.3,4138.2L282.3,4138.2L287,4135.2L290.8,4131.2L294.3,4127.1L298.6,4123.5L303.5,4120.6L308.2,4121L314.9,4121.3L320.4,4120.7L324.9,4119.4L330.5,4117.1L335.4,4113.2L339.4,4111.8L342.6,4109.5L346.6,4105.5L350.6,4104.1L354,4100L357.4,4096.8L360.4,4093.7L364.2,4090.5L368.3,4086.8L371.5,4082.7L374.6,4079.8L378.5,4076.1L382,4072.6L385.6,4069L389,4065.2L392.1,4061.6L395.1,4057.5L397.9,4052.5L400.2,4048.4L403.5,4043.7L406.5,4039L409.2,4034.2L412.5,4030.5L415.7,4025.8L417.7,4021.4L421.1,4017.2L424,4012.8L427,4009.1L429.4,4005.1L432.4,4001.2L435.9,3996.7L439,3993.6L441.4,3989.4L444.8,3985.3L447.4,3981.9L450.5,3978.3L453.2,3973.5L456.1,3970.2L458.9,3966L462.3,3961.7L465,3957.5L467.2,3953.4L470.9,3948.9L473.2,3944.3L476.4,3939.9L478.5,3936.2L481.3,3932.2L483.6,3927.1L485.9,3923L487.9,3918.5L490.2,3913.4L493,3908L495,3904L496.7,3899.2L499.6,3895L501.4,3889.9L503.8,3886.3L506.1,3880.7L507.8,3876.3L510.4,3872.4L512,3867L513.4,3862L515.6,3858.1L517.3,3852.8L519,3848.9L521.1,3843.7L522.7,3838.7L524,3834.5L525.6,3830.2L527.5,3826L529.2,3820L531.2,3815.6L532.6,3811.4L534.6,3807.4L536.1,3803.1L537.6,3798L539.5,3793L540.2,3788.8L541.6,3784.2L542.5,3779.4L544.5,3774.1L546.4,3767.2L547.2,3763.2L549.3,3758.6L550.6,3754.2L552,3749.6L553.3,3743.9L555.5,3739.9L557.4,3734.8L558.7,3729.4L560.6,3724.5L562.2,3719.5L563.9,3714.8L566,3710.1L567.8,3705.5L569.2,3699.6L570.6,3695.2L572.1,3690.7L574.6,3685.5L576.1,3681.8L578.2,3677.2L579.3,3672L581.3,3668L583,3663.2L585.2,3658.8L587.6,3653.6L589.2,3649.1L591.4,3645.1L592.8,3640L594.9,3636.6L596.9,3631.4L598.8,3627.3L601.1,3622.4L603.2,3616.9L605.7,3611.7L607.4,3607.6L610.2,3602.1L611.8,3598.1L614.1,3593.6L616.3,3589.4L619.1,3584L621.3,3579.7L624,3575.8L626.6,3572.4L628.5,3568.6L630.9,3566L634.1,3562L637.7,3558.3L641.4,3555.3L645.5,3552.7L650.5,3549.1L655.3,3550.5L660,3548.6L665,3547.3L669.9,3548.1L674.6,3551.6L678,3552.9L681,3554.7L684.9,3559.4L688.2,3562.6L692,3566L695.4,3569.4L698.7,3573.1L702.3,3577.6L705.8,3581.1L709.6,3586.5L711.8,3590.1L714.9,3594.4L716.9,3598.6L719.9,3603.8L722.3,3608.2L724.7,3613L727,3618.6L728.5,3623.1L730.8,3627.6L733.3,3632.4L734.7,3637.2L736.6,3642.5L738.8,3646.6L740.8,3652.7L742.8,3657.7L744.6,3662.3L746.7,3667.2L748,3672.2L749.9,3676.8L751.4,3681.2L753.1,3685.8L755.3,3690.5L757.1,3695.9L758.6,3699.9L760.1,3704.3L762,3708.9L764.5,3713.5L766.1,3719.2L768.5,3722.8L770.5,3728.2L773.1,3732.3L775.6,3735.6L776.9,3739.5L779.5,3743.9L782.3,3748.5L785.4,3753.1L788.8,3757.2L791.1,3761.8L794.4,3765.9L797,3770L799.9,3774.2L801.9,3779.1L804.1,3783.4L806.9,3787.6L808.8,3792.6L811.6,3797.4L814,3801L817,3805L818.7,3809.7L820.7,3813.9L824.1,3817.2L826,3821.6L829,3826L831.7,3829.9L834.6,3833.2L838.4,3836.9L841.2,3841.8L845.1,3844.8L848.1,3849.3L851,3853.5L853.5,3857.5L856.4,3862.1L859.3,3867.4L862.1,3871.2L865.3,3875.9L868.7,3880L871,3884L874.9,3888.5L878.9,3892.3L882.9,3896.1L886.7,3899.4L890,3901.5L895.3,3903.3L900,3906.5L903.1,3908.9L906.7,3912.6L910.7,3914.4L914.4,3917L917.5,3921L921.4,3925.1L924.5,3928.4L928.4,3931.8L932,3935.6L935.4,3936.4L939.6,3939.3L944.3,3942.9L948.8,3943.5L952.5,3947.3L956.8,3950.2L961.3,3953.2L965.3,3956.8L969.3,3959.6L972.9,3961.8L977.3,3964.5L981.5,3969.5L986,3971.5L990.3,3972.3L995.2,3972.4L999.9,3969.9L1005,3968.8L1009.4,3969.4L1013.4,3973.7L1018.2,3979.5L1022.4,3980.5L1026.4,3981.5L1030.6,3982.8L1034.8,3979.5L1039.9,3982.2L1043.8,3985.7L1049,3986.8L1054.1,3991.1L1058.4,3994.2L1063.2,3996.8L1068.3,3999.5L1072.1,4001.2L1077.3,4004.6L1081.4,4005.4L1086.5,4007.3L1091.5,4010.4L1096.2,4012.2L1100.4,4015L1105.7,4018.2L1109.8,4018.4L1115.5,4020L1119.8,4024.3L1125.5,4023.7L1130.2,4024.8L1134.9,4025L1140.8,4020.2L1146.1,4019.8L1150.6,4019L1155.4,4019.6L1159,4021.1L1163.2,4024.3L1168,4026L1172.6,4025.6L1177.7,4026L1182.3,4028.8L1186.7,4028.7L1191.4,4028.9L1195.8,4029.3L1200.6,4033.3L1204.5,4035.8L1209,4036.5L1213.2,4037.3L1218.4,4042.6L1221.8,4044.3L1226.4,4044.6L1231.4,4044.5L1235.7,4042.9L1241,4043.4L1245.6,4046.6L1251,4049.2L1255.6,4052.2L1260.7,4053.9L1265.2,4056.3L1270,4056.3L1274.3,4056.2L1279.5,4050.8L1284.7,4051L1289,4052.2L1292.9,4053.1L1298,4057.2L1302.2,4059.8L1306.1,4061.7L1311,4062.7L1314.9,4062.5L1319.7,4063.9L1324.5,4060.1L1328.8,4057.2L1332.9,4054.9L1337.2,4052.2L1342.2,4050.6L1348.1,4053.8L1352.8,4054.8L1357.6,4055L1363.3,4057.2L1369.2,4059.2L1374,4057.6L1378.7,4055.8L1383.8,4053.9L1387.4,4056.4L1390.8,4058.6L1395.7,4061.7L1400,4061L1404.2,4063.9L1409.5,4064.2L1414.6,4063.6L1420.6,4061L1426.2,4059.7L1430.4,4061L1435.1,4064.9L1439.2,4065L1442.5,4065.6L1447.6,4061.1L1451.9,4059.5L1456.7,4058L1461.2,4056.2L1465.6,4056.3L1469.7,4057L1474,4055L1478.9,4053.9L1483.6,4050.1L1488.7,4047.5L1493.2,4048.1L1498.7,4049.6L1503.3,4050.4L1507.2,4050.9L1512.1,4047.6L1516,4046.1L1520.8,4046.4L1525.7,4046.2L1531.2,4048.6L1536,4050.2L1541.2,4052.2L1546.6,4051.5L1552.2,4047.4L1557.5,4046.6L1562.3,4044.4L1566.5,4047.8L1571.2,4048.3L1574.7,4054.3L1579.8,4056.7L1583.9,4058.7L1588.7,4059.1L1593.3,4058.7L1598.1,4060.2L1603,4060.7L1608,4061.5L1612.3,4062L1617.1,4060.3L1621.8,4060.8L1626.4,4059.6L1630.9,4059.7L1635.8,4057.4L1640.9,4055.9L1645,4055.6L1649.7,4055L1653.9,4056.8L1658.8,4059L1663.2,4059.8L1667.2,4062L1671.8,4063.6L1677.7,4065L1682.3,4068.3L1687.6,4068.3L1692.6,4066.1L1697.5,4062L1702.8,4062L1708,4059L1712.7,4059.4L1717.1,4061.7L1721.5,4063.6L1725.5,4064.8L1730.9,4062.7L1737.2,4062L1741.4,4061.3L1745.9,4060.9L1751.1,4057.9L1755.6,4057.6L1760.5,4057.8L1765.1,4057.7L1769.6,4058L1772.9,4061L1778,4062L1782.2,4062.2L1786.8,4062.3L1792.4,4064.1L1797.3,4062L1801.3,4063.7L1806.6,4064.7L1810.6,4063.2L1815,4064.1L1818.8,4062L1822.9,4061.1L1826.3,4056.2L1829.6,4051.5L1833.4,4050.3L1838.3,4050.1L1843.4,4052.2L1847.9,4052L1852,4051.4L1855.6,4045.7L1859,4043.7L1862.5,4042L1865.6,4043.7L1869.4,4046.8L1873.4,4051.6L1877,4053.8L1881.5,4053.3L1885.2,4053L1890,4049.6L1894.6,4046.2L1898.8,4044.3L1903.8,4043.2L1908.4,4040L1913.6,4039.1L1917.9,4037.4L1922.4,4039.4L1926.6,4039.1L1931.9,4043L1936.5,4043.3L1941.2,4045L1945.8,4044L1950.6,4044.8L1955.9,4045L1960.7,4041.9L1965.8,4043.6L1970.3,4042L1975.5,4039.7L1980.2,4039.7L1985.9,4037.4L1989.7,4037.7L1993.7,4037.4L2000.1,4037.4L2005.3,4038.6L2008.4,4036.2L2012.3,4032.9L2016.9,4032.4L2021,4027.8L2025.7,4025.8L2031.3,4023.1L2036.5,4023.8L2041.2,4026.4L2046,4024.6L2050.4,4023.1L2054.3,4022.3L2059.2,4023.2L2063.6,4021L2067.5,4019L2072.7,4018.8L2077.2,4015.9L2082.1,4013.6L2087,4011.2L2092.3,4009L2097.6,4007.4L2102.4,4004.2L2107.3,4002.5L2112.2,4002.2L2117.1,4003.6L2121.9,4001.3L2127,3999.4L2132,3997.8L2137,3993.8L2142.3,3992.6L2147.9,3994.5L2152.8,3996.4L2157.7,3999.8L2162.7,3999.5L2168.2,3996.7L2172.4,3995.2L2177.3,3993.7L2182.5,3993.4L2187.2,3996L2192.8,3998.3L2197.7,4001.3L2202.5,4002.9L2207,4005L2210.8,4006.2L2215,4008.3L2219,4009.6L2224.7,4015.1L2228.7,4015.6L2231.3,4017.9" fill="none" stroke="#000" stroke-width="3" stroke-linejoin="round"/>
<path d="M495,3904C500.9,3891.8 506.6,3880 512,3867C517.4,3854 523.2,3837.5 527.5,3826C531.8,3814.5 534.5,3807.8 537.6,3798C540.8,3788.2 542,3781.1 546.4,3767.2C550.8,3753.3 558.1,3731.3 563.9,3714.8C569.7,3698.3 575.5,3682.6 581.3,3668C587.1,3653.4 593,3640.4 598.8,3627.3C604.6,3614.2 610.9,3599.6 616.3,3589.4" fill="none" stroke="#000" stroke-width="6.8" stroke-dasharray="26 6" stroke-linecap="round"/>
<path d="M727,3618.6C732.8,3631.2 738.8,3647.2 744.6,3662.3C750.4,3677.4 756.2,3695.3 762,3708.9C767.8,3722.5 773.7,3733.7 779.5,3743.9" fill="none" stroke="#000" stroke-width="6.8" stroke-dasharray="26 6" stroke-linecap="round"/>
<path d="M287,4135.2C292.3,4132.9 292.3,4126.1 298.6,4123.5" fill="none" stroke="#000" stroke-width="6.8" stroke-dasharray="7 19" stroke-linecap="round"/>
<path d="M354,4100C359.4,4095.2 365.7,4088.5 371.5,4082.7C377.3,4076.9 383.2,4072.5 389,4065.2C394.8,4057.9 400.7,4047.7 406.5,4039C412.3,4030.3 418.2,4021.1 424,4012.8C429.8,4004.5 435.6,3997.2 441.4,3989.4C447.2,3981.6 453.1,3974.2 458.9,3966C464.7,3957.8 470.4,3950.2 476.4,3939.9C482.4,3929.6 489.1,3916.2 495,3904" fill="none" stroke="#000" stroke-width="6.8" stroke-dasharray="7 19" stroke-linecap="round"/>
<path d="M616.3,3589.4C621.6,3579.2 626,3572.1 630.9,3566C635.8,3559.9 640.6,3555.6 645.5,3552.7" fill="none" stroke="#000" stroke-width="6.8" stroke-dasharray="7 19" stroke-linecap="round"/>
<path d="M692,3566C697.8,3571.8 703.8,3577.7 709.6,3586.5C715.4,3595.3 721.2,3606 727,3618.6" fill="none" stroke="#000" stroke-width="6.8" stroke-dasharray="7 19" stroke-linecap="round"/>
<path d="M779.5,3743.9C785.3,3754.1 791.2,3760.5 797,3770C802.8,3779.5 808.7,3791.7 814,3801C819.3,3810.3 822.8,3817.2 829,3826C835.2,3834.8 844,3843.8 851,3853.5C858,3863.2 864.5,3876 871,3884C877.5,3892 885.2,3897.8 890,3901.5" fill="none" stroke="#000" stroke-width="6.8" stroke-dasharray="7 19" stroke-linecap="round"/>
<path d="M917.5,3921C922.8,3925.8 926.2,3931.2 932,3935.6" fill="none" stroke="#000" stroke-width="6.8" stroke-dasharray="7 19" stroke-linecap="round"/>
<path d="M186.2,4123.6C190.8,4123.4 204.5,4122.5 214,4122.3C223.5,4122.1 233.6,4122.8 243.3,4122.3C253,4121.8 263.7,4120.2 272.4,4119.4C281.1,4118.6 287.9,4119.4 295.7,4117.7C303.5,4116 311.2,4110 319,4109C326.8,4108 333.6,4112.3 342.4,4111.8C351.1,4111.3 361.8,4107.5 371.5,4106C381.2,4104.5 390.9,4103.8 400.6,4103C410.3,4102.2 420.1,4101.9 429.8,4101.4C439.5,4100.9 449.2,4100.7 458.9,4100C468.6,4099.3 478.3,4098.4 488,4097.3C497.7,4096.2 507.5,4095.1 517.2,4093.2C526.9,4091.2 537.6,4088 546.4,4085.6C555.1,4083.2 562.9,4081.5 569.7,4078.5C576.5,4075.6 580.2,4070.5 587,4068C593.8,4065.5 603.7,4065.7 610.5,4063.5C617.3,4061.3 622.2,4058.8 628,4054.7C633.8,4050.6 639.7,4045.1 645.5,4038.7C651.3,4032.4 657.1,4025.1 662.9,4016.7C668.7,4008.2 674.6,3998.2 680.4,3988C686.2,3977.7 692.1,3966.1 697.9,3955.2C703.7,3944.3 709.6,3933.3 715.4,3922.3C721.2,3911.4 727.1,3900.8 732.9,3889.6C738.7,3878.4 744.6,3867.1 750.4,3855.1C756.2,3843.2 762.1,3831 767.9,3818C773.7,3805 779.6,3791.7 785.4,3777.1C791.2,3762.4 798.4,3743.2 802.8,3730.2C807.2,3717.2 808.8,3709.3 811.8,3698.9C814.8,3688.5 817.9,3678.1 820.9,3668C823.9,3657.9 827,3648.1 830,3638.4C833,3628.8 836,3618.9 839,3610.1C842,3601.4 844.8,3593.6 848,3585.9C851.2,3578.3 854.8,3571.2 858.4,3564.5C862,3557.7 865.9,3551.6 869.7,3545.3C873.5,3539 877.2,3533 881,3526.6C884.8,3520.3 888.6,3513.7 892.4,3507.3C896.2,3500.9 900.2,3494.1 903.8,3488.1C907.4,3482.1 910.6,3476.5 914,3471.2C917.4,3466 920.8,3461 924.2,3456.8C927.6,3452.5 930.8,3448.4 934.4,3445.9C938,3443.5 942,3442.7 945.8,3442C949.6,3441.3 953.2,3441.2 957,3441.6C960.8,3442 964.7,3442.4 968.5,3444.5C972.3,3446.6 976,3450.3 979.8,3454.2C983.6,3458.2 987.4,3462.9 991.2,3468.2C995,3473.4 998.8,3479.4 1002.6,3485.5C1006.4,3491.6 1010.1,3498.2 1013.9,3504.7C1017.7,3511.3 1021.5,3518.1 1025.3,3524.7C1029.1,3531.2 1032.8,3537.6 1036.6,3543.9C1040.4,3550.2 1044.2,3556.3 1048,3562.4C1051.8,3568.6 1055.5,3574.7 1059.3,3580.8C1063.1,3586.9 1067.3,3593.5 1070.7,3599C1074.1,3604.4 1077.2,3609.1 1079.8,3613.5C1082.4,3617.8 1082.5,3617.9 1086.5,3624.8C1090.5,3631.7 1098.2,3644.9 1104,3654.6C1109.8,3664.3 1114.7,3672 1121.5,3682.9C1128.3,3693.9 1137,3708.1 1144.8,3720.2C1152.5,3732.4 1160.2,3744.8 1168,3755.8C1175.8,3766.8 1183.6,3776.8 1191.4,3786.3C1199.2,3795.7 1207,3804.4 1214.8,3812.6C1222.6,3820.9 1230.2,3828.7 1238,3836C1245.8,3843.3 1253.6,3850.5 1261.4,3856.4C1269.2,3862.2 1276.9,3866.9 1284.7,3871.4C1292.5,3875.8 1300.2,3879.1 1308,3883C1315.8,3886.9 1323.5,3890.5 1331.3,3894.9C1339.1,3899.4 1346.9,3904.4 1354.7,3909.7C1362.5,3914.9 1371.2,3922.2 1378,3926.5C1384.8,3930.8 1388.7,3933.4 1395.5,3935.6C1402.3,3937.8 1411,3937.6 1418.8,3939.7C1426.5,3941.8 1435.2,3945.6 1442,3948.4C1448.8,3951.2 1453.8,3952.9 1459.6,3956.4C1465.4,3959.8 1470.2,3965.2 1477,3969C1483.8,3972.9 1492.6,3976.1 1500.4,3979.3C1508.2,3982.5 1515.9,3984.6 1523.7,3988C1531.5,3991.4 1539.2,3996.8 1547,3999.7C1554.8,4002.6 1561.5,4003.2 1570.3,4005.6C1579,4008 1589.8,4012.2 1599.5,4014.3C1609.2,4016.4 1619.2,4016.6 1628.6,4018.4C1637.9,4020.2 1646.2,4023.1 1655.6,4025C1664.9,4026.9 1673,4028.4 1684.7,4029.7C1696.4,4031 1712.9,4032.6 1725.5,4032.6C1738.1,4032.6 1749.8,4031 1760.5,4029.7C1771.2,4028.4 1779.9,4026.4 1789.6,4025C1799.3,4023.6 1808.1,4020.8 1818.8,4021C1829.5,4021.2 1841.2,4026.5 1853.8,4026.2C1866.4,4025.9 1882,4019.6 1894.6,4019.2C1907.2,4018.8 1917.8,4023.6 1929.5,4023.9C1941.2,4024.2 1951.9,4021.8 1964.5,4021C1977.1,4020.2 1992.7,4019.7 2005.3,4019.2C2017.9,4018.7 2028.6,4018.5 2040.3,4018C2052,4017.5 2063.7,4016.9 2075.3,4016.3C2087,4015.7 2098.5,4015.6 2110.2,4014.6C2121.8,4013.6 2134.5,4010.5 2145.2,4010.5C2155.9,4010.5 2164.6,4014.1 2174.3,4014.6C2184,4015.1 2194,4013 2203.5,4013.4C2213,4013.8 2226.7,4016.3 2231.3,4016.9" fill="none" stroke="#f00" stroke-width="3.6" stroke-linejoin="round"/>
<path d="M186.2,4123.6C190.8,4123.4 204.5,4122.5 214,4122.3C223.5,4122.1 233.6,4122.8 243.3,4122.3C253,4121.8 263.7,4120.2 272.4,4119.4C281.1,4118.6 287.9,4119.4 295.7,4117.7C303.5,4116 311.2,4110 319,4109C326.8,4108 333.6,4112.3 342.4,4111.8C351.1,4111.3 361.8,4107.5 371.5,4106C381.2,4104.5 390.9,4103.8 400.6,4103C410.3,4102.2 420.1,4101.9 429.8,4101.4C439.5,4100.9 449.2,4100.7 458.9,4100C468.6,4099.3 478.3,4098.4 488,4097.3C497.7,4096.2 507.5,4095.1 517.2,4093.2C526.9,4091.2 537.6,4088 546.4,4085.6C555.1,4083.2 562.9,4081.5 569.7,4078.5" fill="none" stroke="#f00" stroke-width="6.4" stroke-dasharray="3 13" stroke-linecap="round"/>
<path d="M569.7,4078.5C576.5,4075.6 580.2,4070.5 587,4068C593.8,4065.5 603.7,4065.7 610.5,4063.5C617.3,4061.3 622.2,4058.8 628,4054.7C633.8,4050.6 639.7,4045.1 645.5,4038.7C651.3,4032.4 657.1,4025.1 662.9,4016.7C668.7,4008.2 674.6,3998.2 680.4,3988C686.2,3977.7 692.1,3966.1 697.9,3955.2C703.7,3944.3 709.6,3933.3 715.4,3922.3C721.2,3911.4 727.1,3900.8 732.9,3889.6C738.7,3878.4 744.6,3867.1 750.4,3855.1C756.2,3843.2 762.1,3831 767.9,3818C773.7,3805 779.6,3791.7 785.4,3777.1C791.2,3762.4 798.4,3743.2 802.8,3730.2C807.2,3717.2 808.8,3709.3 811.8,3698.9C814.8,3688.5 817.9,3678.1 820.9,3668C823.9,3657.9 827,3648.1 830,3638.4C833,3628.8 836,3618.9 839,3610.1C842,3601.4 844.8,3593.6 848,3585.9C851.2,3578.3 854.8,3571.2 858.4,3564.5C862,3557.7 865.9,3551.6 869.7,3545.3C873.5,3539 877.2,3533 881,3526.6C884.8,3520.3 888.6,3513.7 892.4,3507.3C896.2,3500.9 900.2,3494.1 903.8,3488.1C907.4,3482.1 910.6,3476.5 914,3471.2C917.4,3466 920.8,3461 924.2,3456.8C927.6,3452.5 930.8,3448.4 934.4,3445.9C938,3443.5 942,3442.7 945.8,3442C949.6,3441.3 953.2,3441.2 957,3441.6C960.8,3442 964.7,3442.4 968.5,3444.5C972.3,3446.6 976,3450.3 979.8,3454.2C983.6,3458.2 987.4,3462.9 991.2,3468.2C995,3473.4 998.8,3479.4 1002.6,3485.5C1006.4,3491.6 1010.1,3498.2 1013.9,3504.7C1017.7,3511.3 1021.5,3518.1 1025.3,3524.7C1029.1,3531.2 1032.8,3537.6 1036.6,3543.9C1040.4,3550.2 1044.2,3556.3 1048,3562.4C1051.8,3568.6 1055.5,3574.7 1059.3,3580.8C1063.1,3586.9 1067.3,3593.5 1070.7,3599C1074.1,3604.4 1077.2,3609.1 1079.8,3613.5C1082.4,3617.8 1082.5,3617.9 1086.5,3624.8C1090.5,3631.7 1098.2,3644.9 1104,3654.6C1109.8,3664.3 1114.7,3672 1121.5,3682.9C1128.3,3693.9 1137,3708.1 1144.8,3720.2C1152.5,3732.4 1160.2,3744.8 1168,3755.8C1175.8,3766.8 1183.6,3776.8 1191.4,3786.3C1199.2,3795.7 1207,3804.4 1214.8,3812.6C1222.6,3820.9 1230.2,3828.7 1238,3836C1245.8,3843.3 1253.6,3850.5 1261.4,3856.4C1269.2,3862.2 1276.9,3866.9 1284.7,3871.4C1292.5,3875.8 1300.2,3879.1 1308,3883C1315.8,3886.9 1323.5,3890.5 1331.3,3894.9C1339.1,3899.4 1346.9,3904.4 1354.7,3909.7C1362.5,3914.9 1371.2,3922.2 1378,3926.5" fill="none" stroke="#f00" stroke-width="6.6" stroke-linecap="round"/>
<path d="M1378,3926.5C1384.8,3930.8 1388.7,3933.4 1395.5,3935.6C1402.3,3937.8 1411,3937.6 1418.8,3939.7C1426.5,3941.8 1435.2,3945.6 1442,3948.4C1448.8,3951.2 1453.8,3952.9 1459.6,3956.4" fill="none" stroke="#f00" stroke-width="6.4" stroke-dasharray="3 13" stroke-linecap="round"/>
<path d="M1459.6,3956.4C1465.4,3959.8 1470.2,3965.2 1477,3969" fill="none" stroke="#f00" stroke-width="6.6" stroke-linecap="round"/>
<path d="M1477,3969C1483.8,3972.9 1492.6,3976.1 1500.4,3979.3C1508.2,3982.5 1515.9,3984.6 1523.7,3988C1531.5,3991.4 1539.2,3996.8 1547,3999.7C1554.8,4002.6 1561.5,4003.2 1570.3,4005.6C1579,4008 1589.8,4012.2 1599.5,4014.3C1609.2,4016.4 1619.2,4016.6 1628.6,4018.4C1637.9,4020.2 1646.2,4023.1 1655.6,4025C1664.9,4026.9 1673,4028.4 1684.7,4029.7C1696.4,4031 1712.9,4032.6 1725.5,4032.6C1738.1,4032.6 1749.8,4031 1760.5,4029.7C1771.2,4028.4 1779.9,4026.4 1789.6,4025C1799.3,4023.6 1808.1,4020.8 1818.8,4021C1829.5,4021.2 1841.2,4026.5 1853.8,4026.2C1866.4,4025.9 1882,4019.6 1894.6,4019.2C1907.2,4018.8 1917.8,4023.6 1929.5,4023.9C1941.2,4024.2 1951.9,4021.8 1964.5,4021C1977.1,4020.2 1992.7,4019.7 2005.3,4019.2C2017.9,4018.7 2028.6,4018.5 2040.3,4018C2052,4017.5 2063.7,4016.9 2075.3,4016.3C2087,4015.7 2098.5,4015.6 2110.2,4014.6C2121.8,4013.6 2134.5,4010.5 2145.2,4010.5C2155.9,4010.5 2164.6,4014.1 2174.3,4014.6C2184,4015.1 2194,4013 2203.5,4013.4C2213,4013.8 2226.7,4016.3 2231.3,4016.9" fill="none" stroke="#f00" stroke-width="6.4" stroke-dasharray="3 13" stroke-linecap="round"/>
<path d="M186.2,4120.4C189.9,4118.4 199.8,4112.8 208.3,4108.4C216.8,4104.1 227.7,4099 237.4,4094.4C247.1,4089.9 257.9,4084.9 266.6,4081.2C275.4,4077.4 280.2,4075.1 289.9,4072C299.6,4068.8 314.2,4065.1 324.9,4062.3C335.6,4059.5 344.3,4057.6 354,4055.2C363.7,4052.8 373.3,4050.2 383,4048C392.7,4045.9 402.6,4043.9 412.3,4042.1C422,4040.4 431.7,4038.9 441.4,4037.5C451.1,4036.1 460.9,4035.3 470.6,4033.9C480.3,4032.5 490,4030.7 499.7,4029.1C509.4,4027.6 519.2,4026 528.9,4024.7C538.6,4023.3 548.3,4022.5 558,4021.2C567.7,4019.9 577.3,4018.3 587,4016.7C596.7,4015.1 606.5,4013.3 616.3,4011.7C626,4010.1 635.8,4008.5 645.5,4007C655.2,4005.5 664.9,4003.8 674.6,4002.6C684.3,4001.5 694,4000.8 703.7,3999.8C713.4,3998.9 723.2,3997.9 732.9,3996.9C742.6,3995.9 752.3,3994.6 762,3993.7C771.7,3992.7 781.5,3992 791.2,3991.4C800.9,3990.7 810.6,3990.5 820.3,3989.7C830,3989 839.8,3988 849.5,3986.9C859.2,3985.9 870.2,3984.6 878.6,3983.5C887,3982.4 891.6,3981.8 900,3980.4C908.4,3978.9 919.3,3977.1 929,3974.9C938.7,3972.7 948.6,3970.1 958.3,3966.9C968,3963.6 977.7,3960 987.4,3955.4C997.1,3950.8 1006.9,3946 1016.6,3939.4C1026.3,3932.8 1036,3925.1 1045.7,3916C1055.4,3906.9 1065.2,3896.2 1074.9,3884.5C1084.6,3872.9 1095.8,3858.9 1104,3846.2C1112.2,3833.5 1118.1,3821.3 1124.4,3808.3C1130.7,3795.3 1136.6,3781.5 1141.9,3768.4C1147.2,3755.4 1152.2,3742 1156.5,3730C1160.8,3718 1164.1,3708.1 1168,3696.3C1171.9,3684.4 1175.9,3671.7 1179.8,3659C1183.7,3646.3 1187,3635 1191.4,3620.1C1195.8,3605.1 1201.1,3586.4 1206,3569.3C1210.9,3552.3 1215.7,3534.9 1220.6,3517.7C1225.5,3500.4 1230.3,3482.7 1235.2,3465.9C1240.1,3449 1244.9,3432.3 1249.7,3416.5C1254.5,3400.7 1259.4,3384.6 1264.3,3371C1269.2,3357.4 1273.6,3347.1 1278.9,3334.9C1284.2,3322.8 1290.6,3308.7 1296.4,3298.2C1302.2,3287.7 1308.1,3278.6 1313.9,3272C1319.7,3265.4 1325.5,3261.8 1331.3,3258.4C1337.1,3254.9 1343.4,3252.6 1348.8,3251.4C1354.2,3250.1 1358.1,3249.6 1363.4,3250.7C1368.8,3251.9 1374.6,3254.4 1380.9,3258.4C1387.2,3262.4 1394,3267.6 1401.3,3274.6C1408.6,3281.6 1416.8,3290.8 1424.6,3300.5C1432.4,3310.1 1440.1,3321.2 1447.9,3332.5C1455.7,3343.8 1463.4,3356.1 1471.2,3368.2C1479,3380.4 1486.7,3392.9 1494.5,3405.4C1502.3,3417.9 1510.1,3430.9 1517.9,3443.4C1525.7,3455.9 1533.4,3468.3 1541.2,3480.5C1549,3492.8 1556.7,3505.1 1564.5,3517C1572.3,3528.8 1580.4,3541.1 1587.8,3551.8C1595.2,3562.4 1601.6,3571.1 1609,3581C1616.4,3590.8 1624.5,3601.1 1632.3,3610.8C1640.1,3620.4 1646.9,3628.4 1655.6,3639.1C1664.3,3649.7 1675,3662.9 1684.7,3674.7C1694.4,3686.4 1704.2,3698.6 1713.9,3709.6C1723.6,3720.6 1733.3,3731.2 1743,3741C1752.7,3750.7 1762.3,3759.4 1772,3767.8C1781.7,3776.3 1791.6,3784.1 1801.3,3791.6C1811,3799.1 1820.7,3806 1830.4,3812.9C1840.1,3819.8 1849.9,3826.5 1859.6,3833C1869.3,3839.4 1879,3845.9 1888.7,3851.6C1898.4,3857.3 1908.2,3862.5 1917.9,3867.3C1927.6,3872.1 1937.3,3876.3 1947,3880.4C1956.7,3884.5 1966.3,3888.5 1976,3892C1985.7,3895.5 1995.5,3898.5 2005.3,3901.4C2015,3904.2 2024.8,3906.9 2034.5,3909.2C2044.2,3911.6 2053.9,3913.5 2063.6,3915.6C2073.3,3917.7 2083,3919.8 2092.7,3921.8C2102.4,3923.8 2112.2,3925.7 2121.9,3927.6C2131.6,3929.5 2141.3,3931.2 2151,3933.1C2160.7,3934.9 2170.5,3936.9 2180.2,3938.6C2189.9,3940.3 2200.8,3942 2209.3,3943.5C2217.8,3944.9 2227.6,3946.6 2231.3,3947.2" fill="none" stroke="#00f" stroke-width="6.8" stroke-linejoin="round" stroke-linecap="butt"/>
<line x1="1179.8" y1="3637.8" x2="1191.4" y2="3641.3" stroke="#fff" stroke-width="3"/>
<line x1="1199" y1="3571.9" x2="1210.6" y2="3575.2" stroke="#fff" stroke-width="3"/>
</g>
<rect x="186.2" y="3057.8" width="2045.1" height="1204.9" fill="none" stroke="#000" stroke-width="5.8"/>
<line x1="185.7" y1="3046.2" x2="185.7" y2="3069.4" stroke="#000" stroke-width="5.8" stroke-linecap="round"/>
<line x1="185.7" y1="4251.1" x2="185.7" y2="4274.3" stroke="#000" stroke-width="5.8" stroke-linecap="round"/>
<line x1="390.4" y1="3034.7" x2="390.4" y2="3080.9" stroke="#000" stroke-width="5.8" stroke-linecap="round"/>
<line x1="390.4" y1="4239.6" x2="390.4" y2="4285.8" stroke="#000" stroke-width="5.8" stroke-linecap="round"/>
<text x="0" y="0" font-family="Liberation Sans, sans-serif" font-size="53" text-anchor="middle" fill="#000" stroke="#000" stroke-width="0.7" stroke-linejoin="round" transform="translate(390.4,4349) scale(1.055,1.03)">280</text>
<line x1="595.1" y1="3046.2" x2="595.1" y2="3069.4" stroke="#000" stroke-width="5.8" stroke-linecap="round"/>
<line x1="595.1" y1="4251.1" x2="595.1" y2="4274.3" stroke="#000" stroke-width="5.8" stroke-linecap="round"/>
<line x1="799.8" y1="3034.7" x2="799.8" y2="3080.9" stroke="#000" stroke-width="5.8" stroke-linecap="round"/>
<line x1="799.8" y1="4239.6" x2="799.8" y2="4285.8" stroke="#000" stroke-width="5.8" stroke-linecap="round"/>
<text x="0" y="0" font-family="Liberation Sans, sans-serif" font-size="53" text-anchor="middle" fill="#000" stroke="#000" stroke-width="0.7" stroke-linejoin="round" transform="translate(799.8,4349) scale(1.055,1.03)">300</text>
<line x1="1004.5" y1="3046.2" x2="1004.5" y2="3069.4" stroke="#000" stroke-width="5.8" stroke-linecap="round"/>
<line x1="1004.5" y1="4251.1" x2="1004.5" y2="4274.3" stroke="#000" stroke-width="5.8" stroke-linecap="round"/>
<line x1="1209.2" y1="3034.7" x2="1209.2" y2="3080.9" stroke="#000" stroke-width="5.8" stroke-linecap="round"/>
<line x1="1209.2" y1="4239.6" x2="1209.2" y2="4285.8" stroke="#000" stroke-width="5.8" stroke-linecap="round"/>
<text x="0" y="0" font-family="Liberation Sans, sans-serif" font-size="53" text-anchor="middle" fill="#000" stroke="#000" stroke-width="0.7" stroke-linejoin="round" transform="translate(1209.2,4349) scale(1.055,1.03)">320</text>
<line x1="1413.9" y1="3046.2" x2="1413.9" y2="3069.4" stroke="#000" stroke-width="5.8" stroke-linecap="round"/>
<line x1="1413.9" y1="4251.1" x2="1413.9" y2="4274.3" stroke="#000" stroke-width="5.8" stroke-linecap="round"/>
<line x1="1618.6" y1="3034.7" x2="1618.6" y2="3080.9" stroke="#000" stroke-width="5.8" stroke-linecap="round"/>
<line x1="1618.6" y1="4239.6" x2="1618.6" y2="4285.8" stroke="#000" stroke-width="5.8" stroke-linecap="round"/>
<text x="0" y="0" font-family="Liberation Sans, sans-serif" font-size="53" text-anchor="middle" fill="#000" stroke="#000" stroke-width="0.7" stroke-linejoin="round" transform="translate(1618.6,4349) scale(1.055,1.03)">340</text>
<line x1="1823.3" y1="3046.2" x2="1823.3" y2="3069.4" stroke="#000" stroke-width="5.8" stroke-linecap="round"/>
<line x1="1823.3" y1="4251.1" x2="1823.3" y2="4274.3" stroke="#000" stroke-width="5.8" stroke-linecap="round"/>
<line x1="2028" y1="3034.7" x2="2028" y2="3080.9" stroke="#000" stroke-width="5.8" stroke-linecap="round"/>
<line x1="2028" y1="4239.6" x2="2028" y2="4285.8" stroke="#000" stroke-width="5.8" stroke-linecap="round"/>
<text x="0" y="0" font-family="Liberation Sans, sans-serif" font-size="53" text-anchor="middle" fill="#000" stroke="#000" stroke-width="0.7" stroke-linejoin="round" transform="translate(2028,4349) scale(1.055,1.03)">360</text>
<line x1="2232.7" y1="3046.2" x2="2232.7" y2="3069.4" stroke="#000" stroke-width="5.8" stroke-linecap="round"/>
<line x1="2232.7" y1="4251.1" x2="2232.7" y2="4274.3" stroke="#000" stroke-width="5.8" stroke-linecap="round"/>
<line x1="161.8" y1="3217.5" x2="210.6" y2="3217.5" stroke="#000" stroke-width="5.8" stroke-linecap="round"/>
<line x1="161.8" y1="3539.3" x2="210.6" y2="3539.3" stroke="#000" stroke-width="5.8" stroke-linecap="round"/>
<line x1="161.8" y1="3861.1" x2="210.6" y2="3861.1" stroke="#000" stroke-width="5.8" stroke-linecap="round"/>
<line x1="161.8" y1="4182.9" x2="210.6" y2="4182.9" stroke="#000" stroke-width="5.8" stroke-linecap="round"/>
<line x1="174.2" y1="3057.8" x2="198.2" y2="3057.8" stroke="#000" stroke-width="5.8" stroke-linecap="round"/>
<line x1="174.2" y1="3378.4" x2="198.2" y2="3378.4" stroke="#000" stroke-width="5.8" stroke-linecap="round"/>
<line x1="174.2" y1="3700.2" x2="198.2" y2="3700.2" stroke="#000" stroke-width="5.8" stroke-linecap="round"/>
<line x1="174.2" y1="4022" x2="198.2" y2="4022" stroke="#000" stroke-width="5.8" stroke-linecap="round"/>
<line x1="2206.9" y1="3157.4" x2="2255.7" y2="3157.4" stroke="#000" stroke-width="5.8" stroke-linecap="round"/>
<line x1="2206.9" y1="3291.6" x2="2255.7" y2="3291.6" stroke="#000" stroke-width="5.8" stroke-linecap="round"/>
<line x1="2206.9" y1="3425.8" x2="2255.7" y2="3425.8" stroke="#000" stroke-width="5.8" stroke-linecap="round"/>
<line x1="2206.9" y1="3560" x2="2255.7" y2="3560" stroke="#000" stroke-width="5.8" stroke-linecap="round"/>
<line x1="2206.9" y1="3694.2" x2="2255.7" y2="3694.2" stroke="#000" stroke-width="5.8" stroke-linecap="round"/>
<line x1="2206.9" y1="3828.4" x2="2255.7" y2="3828.4" stroke="#000" stroke-width="5.8" stroke-linecap="round"/>
<line x1="2206.9" y1="3962.6" x2="2255.7" y2="3962.6" stroke="#000" stroke-width="5.8" stroke-linecap="round"/>
<line x1="2206.9" y1="4096.8" x2="2255.7" y2="4096.8" stroke="#000" stroke-width="5.8" stroke-linecap="round"/>
<line x1="2206.9" y1="4231" x2="2255.7" y2="4231" stroke="#000" stroke-width="5.8" stroke-linecap="round"/>
<line x1="2219.3" y1="3090.3" x2="2243.3" y2="3090.3" stroke="#000" stroke-width="5.8" stroke-linecap="round"/>
<line x1="2219.3" y1="3224.5" x2="2243.3" y2="3224.5" stroke="#000" stroke-width="5.8" stroke-linecap="round"/>
<line x1="2219.3" y1="3358.7" x2="2243.3" y2="3358.7" stroke="#000" stroke-width="5.8" stroke-linecap="round"/>
<line x1="2219.3" y1="3492.9" x2="2243.3" y2="3492.9" stroke="#000" stroke-width="5.8" stroke-linecap="round"/>
<line x1="2219.3" y1="3627.1" x2="2243.3" y2="3627.1" stroke="#000" stroke-width="5.8" stroke-linecap="round"/>
<line x1="2219.3" y1="3761.3" x2="2243.3" y2="3761.3" stroke="#000" stroke-width="5.8" stroke-linecap="round"/>
<line x1="2219.3" y1="3895.5" x2="2243.3" y2="3895.5" stroke="#000" stroke-width="5.8" stroke-linecap="round"/>
<line x1="2219.3" y1="4029.7" x2="2243.3" y2="4029.7" stroke="#000" stroke-width="5.8" stroke-linecap="round"/>
<line x1="2219.3" y1="4163.9" x2="2243.3" y2="4163.9" stroke="#000" stroke-width="5.8" stroke-linecap="round"/>
<g font-family="Liberation Sans, sans-serif" font-size="64" fill="#000" stroke="#000" stroke-width="0.7" stroke-linejoin="round"><text transform="translate(949.6,4463.9) scale(1.076,1.06794)" >Temperature</text><text transform="translate(1353.8,4463.9) scale(1.05,1.06794)" >(</text><text transform="translate(1376.6,4433.5) scale(1.0,1.06794)" font-size="38">o</text><text transform="translate(1398.4,4463.9) scale(1.05,1.06794)" >C)</text></g>
<text transform="translate(90.4,3674) rotate(-90) scale(1.047,1.08)" font-family="Liberation Sans, sans-serif" font-size="64" text-anchor="middle" fill="#000" stroke="#000" stroke-width="0.7" stroke-linejoin="round">Heat Flow (a.u.)</text>
<line x1="235.3" y1="3163" x2="383.5" y2="3163" stroke="#000" stroke-width="7.1" stroke-linecap="round"/>
<g fill="#000" stroke="#000" stroke-width="0.7" stroke-linejoin="round" font-size="64"><text transform="translate(403.2,3187) scale(1.3,1.047)" font-family="Liberation Serif, serif" font-style="italic" stroke-width="0">β</text><text transform="translate(455.2,3190.6) scale(1.2,1.047)" font-family="Liberation Serif, serif" stroke-width="0.8">=</text><text transform="translate(509.7,3187) scale(1.065,1.047)" font-family="Liberation Serif, serif" stroke-width="0.3">5.0</text><text transform="translate(596.4,3155.6) scale(1.0,1.047)" font-family="Liberation Serif, serif" font-size="40" stroke-width="0.3">o</text><text transform="translate(616.9,3187) scale(1.03,1.047)" font-family="Liberation Sans, sans-serif">C/min</text></g>
<line x1="235.3" y1="3260.6" x2="258.9" y2="3260.6" stroke="#f00" stroke-width="7.1" stroke-linecap="round"/>
<line x1="291.9" y1="3260.6" x2="315.5" y2="3260.6" stroke="#f00" stroke-width="7.1" stroke-linecap="round"/>
<line x1="348.5" y1="3260.6" x2="372.1" y2="3260.6" stroke="#f00" stroke-width="7.1" stroke-linecap="round"/>
<g fill="#f00" stroke="#f00" stroke-width="0.7" stroke-linejoin="round" font-size="64"><text transform="translate(403.2,3284.5) scale(1.3,1.047)" font-family="Liberation Serif, serif" font-style="italic" stroke-width="0">β</text><text transform="translate(455.2,3288.1) scale(1.2,1.047)" font-family="Liberation Serif, serif" stroke-width="0.8">=</text><text transform="translate(509.7,3284.5) scale(1.065,1.047)" font-family="Liberation Serif, serif" stroke-width="0.3">10.0</text><text transform="translate(630.5,3253.1) scale(1.0,1.047)" font-family="Liberation Serif, serif" font-size="40" stroke-width="0.3">o</text><text transform="translate(651,3284.5) scale(1.03,1.047)" font-family="Liberation Sans, sans-serif">C/min</text></g>
<line x1="235.3" y1="3357.6" x2="264.5" y2="3357.6" stroke="#00f" stroke-width="7.1" stroke-linecap="round"/>
<line x1="283" y1="3357.6" x2="286.7" y2="3357.6" stroke="#00f" stroke-width="7.1" stroke-linecap="round"/>
<line x1="306.9" y1="3357.6" x2="336.1" y2="3357.6" stroke="#00f" stroke-width="7.1" stroke-linecap="round"/>
<line x1="354.6" y1="3357.6" x2="358.3" y2="3357.6" stroke="#00f" stroke-width="7.1" stroke-linecap="round"/>
<line x1="378.5" y1="3357.6" x2="382.7" y2="3357.6" stroke="#00f" stroke-width="7.1" stroke-linecap="round"/>
<g fill="#00f" stroke="#00f" stroke-width="0.7" stroke-linejoin="round" font-size="64"><text transform="translate(403.2,3381.5) scale(1.3,1.047)" font-family="Liberation Serif, serif" font-style="italic" stroke-width="0">β</text><text transform="translate(455.2,3385.1) scale(1.2,1.047)" font-family="Liberation Serif, serif" stroke-width="0.8">=</text><text transform="translate(509.7,3381.5) scale(1.065,1.047)" font-family="Liberation Serif, serif" stroke-width="0.3">20.0</text><text transform="translate(630.5,3350.1) scale(1.0,1.047)" font-family="Liberation Serif, serif" font-size="40" stroke-width="0.3">o</text><text transform="translate(651,3381.5) scale(1.03,1.047)" font-family="Liberation Sans, sans-serif">C/min</text></g>
<g transform="translate(1524.5,3197.2) scale(1.037,1.047)" font-family="Liberation Sans, sans-serif" font-size="64" fill="#000" stroke="#000" stroke-width="0.7" stroke-linejoin="round"><text x="0" y="0">NH</text><text x="93" y="21.5" font-size="38">4</text><text x="113.5" y="0">ClO</text><text x="230.5" y="21.5" font-size="38">4</text><text x="270" y="0">+ Al</text><text x="451" y="0"><tspan font-weight="bold">C</tspan> (<tspan font-weight="bold">-</tspan>)</text></g>
</svg>
</body></html>
